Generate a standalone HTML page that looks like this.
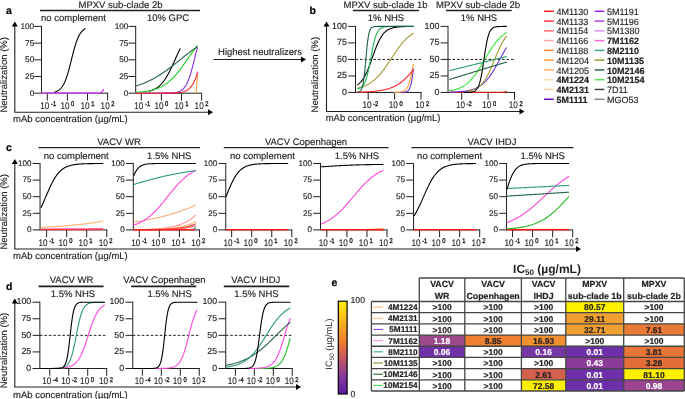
<!DOCTYPE html>
<html><head><meta charset="utf-8"><style>
html,body{margin:0;padding:0;background:#fff;width:685px;height:399px;overflow:hidden}
svg{display:block;font-family:"Liberation Sans", sans-serif;will-change:transform;text-rendering:geometricPrecision}
</style></head><body>
<svg width="685" height="399" viewBox="0 0 685 399">
<rect x="0" y="0" width="685" height="399" fill="#fff"/>
<text x="6.00" y="14.30" font-size="10.5" text-anchor="start" font-weight="bold" fill="#000" stroke="#000" stroke-width="0.2" >a</text>
<text x="120.50" y="8.00" font-size="9.5" text-anchor="middle" font-weight="normal" fill="#231f20" stroke="#231f20" stroke-width="0.15" >MPXV sub-clade 2b</text>
<line x1="40.00" y1="10.60" x2="200.00" y2="10.60" stroke="#231f20" stroke-width="1.5" />
<text x="73.50" y="21.20" font-size="9.5" text-anchor="middle" font-weight="normal" fill="#231f20" stroke="#231f20" stroke-width="0.15" >no complement</text>
<text x="168.00" y="21.20" font-size="9.5" text-anchor="middle" font-weight="normal" fill="#231f20" stroke="#231f20" stroke-width="0.15" >10% GPC</text>
<line x1="14.80" y1="112.00" x2="14.80" y2="25.50" stroke="#231f20" stroke-width="1.1" />
<path d="M11.80,26.50 L14.80,21.50 L17.80,26.50 Z" fill="#000"/>
<line x1="14.30" y1="112.20" x2="209.00" y2="112.20" stroke="#231f20" stroke-width="1.1" />
<path d="M208.00,109.20 L213.00,112.20 L208.00,115.20 Z" fill="#000"/>
<text x="6.90" y="74.80" font-size="9.5" text-anchor="middle" font-weight="normal" fill="#231f20" stroke="#231f20" stroke-width="0.15" transform="rotate(-90 6.9 74.8)">Neutralization (%)</text>
<text x="13.00" y="121.50" font-size="9.5" text-anchor="start" font-weight="normal" fill="#231f20" stroke="#231f20" stroke-width="0.15" >mAb concentration (µg/mL)</text>
<line x1="41.50" y1="25.90" x2="41.50" y2="93.70" stroke="#231f20" stroke-width="1" />
<line x1="34.20" y1="93.20" x2="41.50" y2="93.20" stroke="#231f20" stroke-width="1" />
<text x="34.20" y="95.80" font-size="8.2" text-anchor="end" font-weight="normal" fill="#231f20" stroke="#231f20" stroke-width="0.15" >0</text>
<line x1="34.20" y1="76.50" x2="41.50" y2="76.50" stroke="#231f20" stroke-width="1" />
<text x="34.20" y="79.10" font-size="8.2" text-anchor="end" font-weight="normal" fill="#231f20" stroke="#231f20" stroke-width="0.15" >25</text>
<line x1="34.20" y1="59.80" x2="41.50" y2="59.80" stroke="#231f20" stroke-width="1" />
<text x="34.20" y="62.40" font-size="8.2" text-anchor="end" font-weight="normal" fill="#231f20" stroke="#231f20" stroke-width="0.15" >50</text>
<line x1="34.20" y1="43.10" x2="41.50" y2="43.10" stroke="#231f20" stroke-width="1" />
<text x="34.20" y="45.70" font-size="8.2" text-anchor="end" font-weight="normal" fill="#231f20" stroke="#231f20" stroke-width="0.15" >75</text>
<line x1="34.20" y1="26.40" x2="41.50" y2="26.40" stroke="#231f20" stroke-width="1" />
<text x="34.20" y="29.00" font-size="8.2" text-anchor="end" font-weight="normal" fill="#231f20" stroke="#231f20" stroke-width="0.15" >100</text>
<line x1="41.50" y1="93.20" x2="108.10" y2="93.20" stroke="#231f20" stroke-width="1" />
<line x1="47.30" y1="93.20" x2="47.30" y2="100.50" stroke="#231f20" stroke-width="1" />
<text transform="translate(40.30 108.90) scale(0.85 1)" font-size="9.6" fill="#231f20" stroke="#231f20" stroke-width="0.12">10<tspan dx="1.9" dy="-2.6" font-size="6.8" stroke-width="0.35">-1</tspan></text>
<line x1="67.40" y1="93.20" x2="67.40" y2="100.50" stroke="#231f20" stroke-width="1" />
<text transform="translate(60.40 108.90) scale(0.85 1)" font-size="9.6" fill="#231f20" stroke="#231f20" stroke-width="0.12">10<tspan dx="1.9" dy="-2.6" font-size="6.8" stroke-width="0.35">0</tspan></text>
<line x1="87.50" y1="93.20" x2="87.50" y2="100.50" stroke="#231f20" stroke-width="1" />
<text transform="translate(80.50 108.90) scale(0.85 1)" font-size="9.6" fill="#231f20" stroke="#231f20" stroke-width="0.12">10<tspan dx="1.9" dy="-2.6" font-size="6.8" stroke-width="0.35">1</tspan></text>
<line x1="107.60" y1="93.20" x2="107.60" y2="100.50" stroke="#231f20" stroke-width="1" />
<text transform="translate(100.60 108.90) scale(0.85 1)" font-size="9.6" fill="#231f20" stroke="#231f20" stroke-width="0.12">10<tspan dx="1.9" dy="-2.6" font-size="6.8" stroke-width="0.35">2</tspan></text>
<polyline points="41.67,92.93 42.44,92.93 43.21,92.93 43.99,92.93 44.76,92.93 45.53,92.93 46.30,92.93 47.07,92.93 47.84,92.93 48.61,92.93 49.39,92.93 50.16,92.93 50.93,92.93 51.70,92.93 52.47,92.93 53.24,92.93 54.01,92.93 54.78,92.93 55.56,92.93 56.33,92.93 57.10,92.93 57.87,92.93 58.64,92.93 59.41,92.93 60.18,92.93 60.96,92.93 61.73,92.93 62.50,92.93 63.27,92.93 64.04,92.93 64.81,92.93 65.58,92.93 66.35,92.93 67.13,92.93 67.90,92.93 68.67,92.93 69.44,92.93 70.21,92.93 70.98,92.93 71.75,92.93 72.53,92.93 73.30,92.93 74.07,92.93 74.84,92.93 75.61,92.93 76.38,92.93 77.15,92.93 77.92,92.93 78.70,92.93 79.47,92.93 80.24,92.93 81.01,92.93 81.78,92.93 82.55,92.93 83.32,92.93 84.10,92.93 84.87,92.93 85.64,92.93 86.41,92.93 87.18,92.93 87.95,92.93 88.72,92.93 89.49,92.93 90.27,92.93 91.04,92.93 91.81,92.93 92.58,92.93 93.35,92.93 94.12,92.93 94.89,92.93 95.67,92.93 96.44,92.93 97.21,92.93 97.98,92.93 98.75,92.93 99.52,92.91 100.29,92.78 101.06,92.46 101.84,91.88 102.61,90.95 103.38,89.59" fill="none" stroke="#cc44ee" stroke-width="1.4" stroke-linejoin="round" stroke-linecap="round"/>
<polyline points="54.94,91.96 55.31,91.84 55.69,91.71 56.07,91.58 56.45,91.43 56.82,91.26 57.20,91.09 57.58,90.89 57.95,90.68 58.33,90.45 58.71,90.20 59.08,89.93 59.46,89.64 59.84,89.32 60.21,88.98 60.59,88.60 60.97,88.20 61.34,87.76 61.72,87.29 62.10,86.79 62.48,86.24 62.85,85.66 63.23,85.03 63.61,84.35 63.98,83.64 64.36,82.87 64.74,82.05 65.11,81.18 65.49,80.26 65.87,79.29 66.24,78.27 66.62,77.19 67.00,76.06 67.37,74.88 67.75,73.65 68.13,72.37 68.51,71.05 68.88,69.69 69.26,68.29 69.64,66.86 70.01,65.40 70.39,63.92 70.77,62.42 71.14,60.91 71.52,59.40 71.90,57.88 72.27,56.38 72.65,54.89 73.03,53.42 73.40,51.97 73.78,50.56 74.16,49.18 74.54,47.84 74.91,46.54 75.29,45.29 75.67,44.08 76.04,42.93 76.42,41.83 76.80,40.78 77.17,39.78 77.55,38.84 77.93,37.95 78.30,37.11 78.68,36.32 79.06,35.58 79.43,34.88 79.81,34.23 80.19,33.63 80.57,33.06 80.94,32.54 81.32,32.05 81.70,31.60 82.07,31.18 82.45,30.79 82.83,30.44 83.20,30.11 83.58,29.80 83.96,29.52 84.33,29.26 84.71,29.02 85.09,28.80" fill="none" stroke="#000" stroke-width="1.1" stroke-linejoin="round" stroke-linecap="round"/>
<line x1="135.70" y1="25.90" x2="135.70" y2="93.70" stroke="#231f20" stroke-width="1" />
<line x1="128.40" y1="93.20" x2="135.70" y2="93.20" stroke="#231f20" stroke-width="1" />
<text x="128.40" y="95.80" font-size="8.2" text-anchor="end" font-weight="normal" fill="#231f20" stroke="#231f20" stroke-width="0.15" >0</text>
<line x1="128.40" y1="76.50" x2="135.70" y2="76.50" stroke="#231f20" stroke-width="1" />
<text x="128.40" y="79.10" font-size="8.2" text-anchor="end" font-weight="normal" fill="#231f20" stroke="#231f20" stroke-width="0.15" >25</text>
<line x1="128.40" y1="59.80" x2="135.70" y2="59.80" stroke="#231f20" stroke-width="1" />
<text x="128.40" y="62.40" font-size="8.2" text-anchor="end" font-weight="normal" fill="#231f20" stroke="#231f20" stroke-width="0.15" >50</text>
<line x1="128.40" y1="43.10" x2="135.70" y2="43.10" stroke="#231f20" stroke-width="1" />
<text x="128.40" y="45.70" font-size="8.2" text-anchor="end" font-weight="normal" fill="#231f20" stroke="#231f20" stroke-width="0.15" >75</text>
<line x1="128.40" y1="26.40" x2="135.70" y2="26.40" stroke="#231f20" stroke-width="1" />
<text x="128.40" y="29.00" font-size="8.2" text-anchor="end" font-weight="normal" fill="#231f20" stroke="#231f20" stroke-width="0.15" >100</text>
<line x1="135.70" y1="93.20" x2="202.10" y2="93.20" stroke="#231f20" stroke-width="1" />
<line x1="141.30" y1="93.20" x2="141.30" y2="100.50" stroke="#231f20" stroke-width="1" />
<text transform="translate(134.30 108.90) scale(0.85 1)" font-size="9.6" fill="#231f20" stroke="#231f20" stroke-width="0.12">10<tspan dx="1.9" dy="-2.6" font-size="6.8" stroke-width="0.35">-1</tspan></text>
<line x1="161.40" y1="93.20" x2="161.40" y2="100.50" stroke="#231f20" stroke-width="1" />
<text transform="translate(154.40 108.90) scale(0.85 1)" font-size="9.6" fill="#231f20" stroke="#231f20" stroke-width="0.12">10<tspan dx="1.9" dy="-2.6" font-size="6.8" stroke-width="0.35">0</tspan></text>
<line x1="181.50" y1="93.20" x2="181.50" y2="100.50" stroke="#231f20" stroke-width="1" />
<text transform="translate(174.50 108.90) scale(0.85 1)" font-size="9.6" fill="#231f20" stroke="#231f20" stroke-width="0.12">10<tspan dx="1.9" dy="-2.6" font-size="6.8" stroke-width="0.35">1</tspan></text>
<line x1="201.60" y1="93.20" x2="201.60" y2="100.50" stroke="#231f20" stroke-width="1" />
<text transform="translate(194.60 108.90) scale(0.85 1)" font-size="9.6" fill="#231f20" stroke="#231f20" stroke-width="0.12">10<tspan dx="1.9" dy="-2.6" font-size="6.8" stroke-width="0.35">2</tspan></text>
<polyline points="195.17,93.00 195.20,93.00 195.22,93.00 195.25,93.00 195.28,93.00 195.31,92.99 195.33,92.99 195.36,92.99 195.39,92.98 195.42,92.97 195.44,92.96 195.47,92.95 195.50,92.93 195.53,92.91 195.55,92.89 195.58,92.87 195.61,92.84 195.64,92.81 195.67,92.77 195.69,92.73 195.72,92.69 195.75,92.64 195.78,92.58 195.80,92.52 195.83,92.46 195.86,92.39 195.89,92.31 195.91,92.23 195.94,92.14 195.97,92.04 196.00,91.94 196.02,91.83 196.05,91.72 196.08,91.59 196.11,91.46 196.14,91.32 196.16,91.17 196.19,91.02 196.22,90.85 196.25,90.68 196.27,90.49 196.30,90.30 196.33,90.10 196.36,89.89 196.38,89.67 196.41,89.43 196.44,89.19 196.47,88.94 196.49,88.67 196.52,88.39 196.55,88.11 196.58,87.81 196.61,87.50 196.63,87.17 196.66,86.84 196.69,86.49 196.72,86.13 196.74,85.75 196.77,85.36 196.80,84.96 196.83,84.55 196.85,84.12 196.88,83.67 196.91,83.21 196.94,82.74 196.96,82.25 196.99,81.75 197.02,81.23 197.05,80.69 197.07,80.14 197.10,79.57 197.13,78.99 197.16,78.39 197.19,77.77 197.21,77.14 197.24,76.49 197.27,75.82 197.30,75.13 197.32,74.43 197.35,73.70 197.38,72.96" fill="none" stroke="#ff9a33" stroke-width="1.1" stroke-linejoin="round" stroke-linecap="round"/>
<polyline points="135.67,93.20 136.44,93.20 137.21,93.20 137.99,93.20 138.76,93.20 139.53,93.20 140.30,93.20 141.07,93.20 141.84,93.20 142.61,93.20 143.39,93.20 144.16,93.20 144.93,93.20 145.70,93.20 146.47,93.20 147.24,93.20 148.01,93.20 148.78,93.20 149.56,93.20 150.33,93.20 151.10,93.20 151.87,93.20 152.64,93.20 153.41,93.20 154.18,93.20 154.96,93.19 155.73,93.19 156.50,93.19 157.27,93.19 158.04,93.19 158.81,93.19 159.58,93.18 160.35,93.18 161.13,93.18 161.90,93.17 162.67,93.17 163.44,93.16 164.21,93.15 164.98,93.14 165.75,93.13 166.53,93.12 167.30,93.10 168.07,93.08 168.84,93.05 169.61,93.02 170.38,92.99 171.15,92.94 171.92,92.89 172.70,92.83 173.47,92.76 174.24,92.67 175.01,92.56 175.78,92.43 176.55,92.27 177.32,92.09 178.10,91.87 178.87,91.60 179.64,91.29 180.41,90.91 181.18,90.46 181.95,89.93 182.72,89.30 183.49,88.56 184.27,87.69 185.04,86.68 185.81,85.50 186.58,84.15 187.35,82.60 188.12,80.83 188.89,78.85 189.67,76.65 190.44,74.24 191.21,71.62 191.98,68.83 192.75,65.89 193.52,62.85 194.29,59.76 195.06,56.67 195.84,53.63 196.61,50.70 197.38,47.91" fill="none" stroke="#8a2be2" stroke-width="1.1" stroke-linejoin="round" stroke-linecap="round"/>
<polyline points="149.34,91.12 149.72,91.01 150.11,90.90 150.49,90.78 150.88,90.66 151.26,90.53 151.65,90.40 152.03,90.26 152.42,90.11 152.80,89.95 153.18,89.79 153.57,89.62 153.95,89.44 154.34,89.25 154.72,89.06 155.11,88.85 155.49,88.64 155.88,88.41 156.26,88.18 156.64,87.94 157.03,87.68 157.41,87.41 157.80,87.14 158.18,86.85 158.57,86.54 158.95,86.23 159.33,85.90 159.72,85.56 160.10,85.20 160.49,84.83 160.87,84.45 161.26,84.05 161.64,83.63 162.03,83.20 162.41,82.76 162.79,82.30 163.18,81.82 163.56,81.32 163.95,80.81 164.33,80.28 164.72,79.74 165.10,79.17 165.49,78.59 165.87,78.00 166.25,77.38 166.64,76.75 167.02,76.11 167.41,75.44 167.79,74.76 168.18,74.07 168.56,73.36 168.95,72.63 169.33,71.89 169.71,71.14 170.10,70.37 170.48,69.59 170.87,68.80 171.25,67.99 171.64,67.18 172.02,66.36 172.40,65.52 172.79,64.69 173.17,63.84 173.56,62.99 173.94,62.14 174.33,61.28 174.71,60.42 175.10,59.56 175.48,58.70 175.86,57.84 176.25,56.98 176.63,56.13 177.02,55.28 177.40,54.44 177.79,53.61 178.17,52.78 178.56,51.96 178.94,51.16 179.32,50.36 179.71,49.57 180.09,48.80" fill="none" stroke="#000" stroke-width="1.1" stroke-linejoin="round" stroke-linecap="round"/>
<polyline points="135.67,92.43 136.44,92.38 137.21,92.32 137.99,92.26 138.76,92.20 139.53,92.13 140.30,92.05 141.07,91.98 141.84,91.89 142.61,91.81 143.39,91.71 144.16,91.61 144.93,91.50 145.70,91.39 146.47,91.27 147.24,91.14 148.01,91.00 148.78,90.86 149.56,90.70 150.33,90.53 151.10,90.36 151.87,90.17 152.64,89.97 153.41,89.76 154.18,89.53 154.96,89.30 155.73,89.04 156.50,88.77 157.27,88.49 158.04,88.19 158.81,87.87 159.58,87.53 160.35,87.18 161.13,86.80 161.90,86.40 162.67,85.99 163.44,85.54 164.21,85.08 164.98,84.59 165.75,84.08 166.53,83.54 167.30,82.97 168.07,82.38 168.84,81.76 169.61,81.11 170.38,80.44 171.15,79.74 171.92,79.00 172.70,78.24 173.47,77.45 174.24,76.63 175.01,75.79 175.78,74.91 176.55,74.01 177.32,73.09 178.10,72.14 178.87,71.16 179.64,70.16 180.41,69.14 181.18,68.11 181.95,67.05 182.72,65.98 183.49,64.90 184.27,63.80 185.04,62.70 185.81,61.59 186.58,60.48 187.35,59.36 188.12,58.25 188.89,57.13 189.67,56.03 190.44,54.93 191.21,53.85 191.98,52.77 192.75,51.71 193.52,50.67 194.29,49.65 195.06,48.65 195.84,47.67 196.61,46.71 197.38,45.78" fill="none" stroke="#22cc22" stroke-width="1.1" stroke-linejoin="round" stroke-linecap="round"/>
<polyline points="136.68,85.84 137.43,85.60 138.18,85.35 138.94,85.10 139.69,84.83 140.45,84.57 141.20,84.29 141.95,84.01 142.71,83.71 143.46,83.42 144.21,83.11 144.97,82.79 145.72,82.47 146.48,82.14 147.23,81.80 147.98,81.46 148.74,81.10 149.49,80.74 150.24,80.36 151.00,79.98 151.75,79.60 152.51,79.20 153.26,78.79 154.01,78.38 154.77,77.96 155.52,77.53 156.27,77.09 157.03,76.64 157.78,76.18 158.54,75.72 159.29,75.25 160.04,74.77 160.80,74.28 161.55,73.78 162.30,73.28 163.06,72.77 163.81,72.25 164.57,71.73 165.32,71.19 166.07,70.66 166.83,70.11 167.58,69.56 168.33,69.00 169.09,68.44 169.84,67.87 170.60,67.30 171.35,66.72 172.10,66.14 172.86,65.56 173.61,64.97 174.36,64.37 175.12,63.78 175.87,63.18 176.63,62.58 177.38,61.98 178.13,61.37 178.89,60.77 179.64,60.16 180.39,59.56 181.15,58.95 181.90,58.35 182.66,57.74 183.41,57.14 184.16,56.54 184.92,55.94 185.67,55.34 186.42,54.75 187.18,54.16 187.93,53.57 188.69,52.99 189.44,52.41 190.19,51.84 190.95,51.27 191.70,50.71 192.45,50.15 193.21,49.60 193.96,49.05 194.72,48.51 195.47,47.98 196.22,47.45 196.98,46.93" fill="none" stroke="#22604a" stroke-width="1.1" stroke-linejoin="round" stroke-linecap="round"/>
<polyline points="135.67,93.20 136.44,93.20 137.21,93.20 137.99,93.20 138.76,93.20 139.53,93.20 140.30,93.20 141.07,93.20 141.84,93.20 142.61,93.20 143.39,93.20 144.16,93.20 144.93,93.20 145.70,93.20 146.47,93.20 147.24,93.20 148.01,93.20 148.78,93.20 149.56,93.20 150.33,93.20 151.10,93.20 151.87,93.20 152.64,93.20 153.41,93.20 154.18,93.20 154.96,93.20 155.73,93.20 156.50,93.20 157.27,93.19 158.04,93.19 158.81,93.19 159.58,93.19 160.35,93.19 161.13,93.19 161.90,93.19 162.67,93.18 163.44,93.18 164.21,93.18 164.98,93.17 165.75,93.17 166.53,93.16 167.30,93.15 168.07,93.15 168.84,93.14 169.61,93.12 170.38,93.11 171.15,93.10 171.92,93.08 172.70,93.06 173.47,93.03 174.24,93.00 175.01,92.96 175.78,92.92 176.55,92.87 177.32,92.81 178.10,92.75 178.87,92.66 179.64,92.57 180.41,92.46 181.18,92.33 181.95,92.17 182.72,91.99 183.49,91.78 184.27,91.54 185.04,91.25 185.81,90.91 186.58,90.52 187.35,90.06 188.12,89.53 188.89,88.92 189.67,88.21 190.44,87.40 191.21,86.47 191.98,85.41 192.75,84.20 193.52,82.84 194.29,81.32 195.06,79.63 195.84,77.77 196.61,75.73 197.38,73.53" fill="none" stroke="#ff1f1f" stroke-width="1.1" stroke-linejoin="round" stroke-linecap="round"/>
<circle cx="197.38" cy="72.49" r="1" fill="#ff66dd"/>
<text x="260.00" y="55.00" font-size="9.5" text-anchor="middle" font-weight="normal" fill="#231f20" stroke="#231f20" stroke-width="0.15" >Highest neutralizers</text>
<line x1="213.50" y1="59.50" x2="302.00" y2="59.50" stroke="#231f20" stroke-width="1.1" />
<path d="M301.00,56.50 L306.00,59.50 L301.00,62.50 Z" fill="#000"/>
<text x="309.50" y="14.30" font-size="10.5" text-anchor="start" font-weight="bold" fill="#000" stroke="#000" stroke-width="0.2" >b</text>
<text x="385.50" y="8.00" font-size="9.5" text-anchor="middle" font-weight="normal" fill="#231f20" stroke="#231f20" stroke-width="0.15" >MPXV sub-clade 1b</text>
<line x1="353.00" y1="10.40" x2="419.00" y2="10.40" stroke="#231f20" stroke-width="1.5" />
<text x="478.00" y="8.00" font-size="9.5" text-anchor="middle" font-weight="normal" fill="#231f20" stroke="#231f20" stroke-width="0.15" >MPXV sub-clade 2b</text>
<line x1="446.00" y1="10.40" x2="511.60" y2="10.40" stroke="#231f20" stroke-width="1.5" />
<text x="386.00" y="21.20" font-size="9.5" text-anchor="middle" font-weight="normal" fill="#231f20" stroke="#231f20" stroke-width="0.15" >1% NHS</text>
<text x="479.00" y="21.20" font-size="9.5" text-anchor="middle" font-weight="normal" fill="#231f20" stroke="#231f20" stroke-width="0.15" >1% NHS</text>
<line x1="326.50" y1="111.00" x2="326.50" y2="25.50" stroke="#231f20" stroke-width="1.1" />
<path d="M323.50,26.50 L326.50,21.50 L329.50,26.50 Z" fill="#000"/>
<line x1="326.00" y1="111.50" x2="520.50" y2="111.50" stroke="#231f20" stroke-width="1.1" />
<path d="M519.50,108.50 L524.50,111.50 L519.50,114.50 Z" fill="#000"/>
<text x="318.50" y="74.70" font-size="9.5" text-anchor="middle" font-weight="normal" fill="#231f20" stroke="#231f20" stroke-width="0.15" transform="rotate(-90 318.5 74.7)">Neutralization (%)</text>
<text x="325.70" y="121.00" font-size="9.5" text-anchor="start" font-weight="normal" fill="#231f20" stroke="#231f20" stroke-width="0.15" >mAb concentration (µg/mL)</text>
<line x1="355.50" y1="25.90" x2="355.50" y2="92.95" stroke="#231f20" stroke-width="1" />
<line x1="348.20" y1="92.45" x2="355.50" y2="92.45" stroke="#231f20" stroke-width="1" />
<text x="346.90" y="94.70" font-size="8.9" text-anchor="end" font-weight="normal" fill="#231f20" stroke="#231f20" stroke-width="0.15" >0</text>
<line x1="348.20" y1="75.94" x2="355.50" y2="75.94" stroke="#231f20" stroke-width="1" />
<text x="346.90" y="78.19" font-size="8.9" text-anchor="end" font-weight="normal" fill="#231f20" stroke="#231f20" stroke-width="0.15" >25</text>
<line x1="348.20" y1="59.42" x2="355.50" y2="59.42" stroke="#231f20" stroke-width="1" />
<text x="346.90" y="61.67" font-size="8.9" text-anchor="end" font-weight="normal" fill="#231f20" stroke="#231f20" stroke-width="0.15" >50</text>
<line x1="348.20" y1="42.91" x2="355.50" y2="42.91" stroke="#231f20" stroke-width="1" />
<text x="346.90" y="45.16" font-size="8.9" text-anchor="end" font-weight="normal" fill="#231f20" stroke="#231f20" stroke-width="0.15" >75</text>
<line x1="348.20" y1="26.40" x2="355.50" y2="26.40" stroke="#231f20" stroke-width="1" />
<text x="346.90" y="28.65" font-size="8.9" text-anchor="end" font-weight="normal" fill="#231f20" stroke="#231f20" stroke-width="0.15" >100</text>
<line x1="355.50" y1="92.45" x2="421.50" y2="92.45" stroke="#231f20" stroke-width="1" />
<line x1="368.20" y1="92.45" x2="368.20" y2="99.75" stroke="#231f20" stroke-width="1" />
<text transform="translate(362.40 108.15) scale(0.85 1)" font-size="9.6" fill="#231f20" stroke="#231f20" stroke-width="0.12">10<tspan dx="1.9" dy="-2.6" font-size="6.8" stroke-width="0.35">-2</tspan></text>
<line x1="394.60" y1="92.45" x2="394.60" y2="99.75" stroke="#231f20" stroke-width="1" />
<text transform="translate(388.80 108.15) scale(0.85 1)" font-size="9.6" fill="#231f20" stroke="#231f20" stroke-width="0.12">10<tspan dx="1.9" dy="-2.6" font-size="6.8" stroke-width="0.35">0</tspan></text>
<line x1="421.00" y1="92.45" x2="421.00" y2="99.75" stroke="#231f20" stroke-width="1" />
<text transform="translate(415.20 108.15) scale(0.85 1)" font-size="9.6" fill="#231f20" stroke="#231f20" stroke-width="0.12">10<tspan dx="1.9" dy="-2.6" font-size="6.8" stroke-width="0.35">2</tspan></text>
<line x1="355.50" y1="59.42" x2="421.00" y2="59.42" stroke="#231f20" stroke-width="1.0" stroke-dasharray="2.6,1.9"/>
<polyline points="398.56,92.44 398.74,92.44 398.93,92.44 399.11,92.44 399.30,92.44 399.48,92.44 399.67,92.44 399.85,92.43 400.04,92.43 400.22,92.43 400.41,92.43 400.59,92.43 400.78,92.42 400.96,92.42 401.15,92.42 401.33,92.41 401.52,92.41 401.70,92.40 401.89,92.40 402.07,92.39 402.26,92.39 402.44,92.38 402.63,92.37 402.81,92.36 403.00,92.35 403.18,92.34 403.36,92.33 403.55,92.32 403.73,92.30 403.92,92.29 404.10,92.27 404.29,92.25 404.47,92.23 404.66,92.20 404.84,92.18 405.03,92.14 405.21,92.11 405.40,92.07 405.58,92.03 405.77,91.98 405.95,91.93 406.14,91.87 406.32,91.81 406.51,91.74 406.69,91.66 406.88,91.57 407.06,91.48 407.25,91.37 407.43,91.25 407.62,91.12 407.80,90.97 407.98,90.81 408.17,90.63 408.35,90.43 408.54,90.21 408.72,89.97 408.91,89.71 409.09,89.41 409.28,89.09 409.46,88.73 409.65,88.34 409.83,87.91 410.02,87.44 410.20,86.92 410.39,86.36 410.57,85.75 410.76,85.08 410.94,84.35 411.13,83.57 411.31,82.72 411.50,81.80 411.68,80.81 411.87,79.76 412.05,78.63 412.24,77.43 412.42,76.16 412.60,74.82 412.79,73.42 412.97,71.94 413.16,70.41 413.34,68.82" fill="none" stroke="#6a2bd0" stroke-width="1.1" stroke-linejoin="round" stroke-linecap="round"/>
<polyline points="394.60,92.39 394.83,92.39 395.07,92.38 395.30,92.38 395.54,92.37 395.77,92.36 396.01,92.36 396.24,92.35 396.47,92.34 396.71,92.33 396.94,92.32 397.18,92.31 397.41,92.29 397.65,92.28 397.88,92.26 398.11,92.25 398.35,92.23 398.58,92.21 398.82,92.19 399.05,92.17 399.29,92.14 399.52,92.11 399.75,92.09 399.99,92.05 400.22,92.02 400.46,91.98 400.69,91.94 400.93,91.89 401.16,91.85 401.39,91.79 401.63,91.74 401.86,91.67 402.10,91.61 402.33,91.53 402.57,91.45 402.80,91.37 403.03,91.27 403.27,91.17 403.50,91.06 403.74,90.94 403.97,90.81 404.21,90.67 404.44,90.52 404.67,90.35 404.91,90.17 405.14,89.98 405.38,89.77 405.61,89.54 405.85,89.30 406.08,89.03 406.31,88.75 406.55,88.44 406.78,88.11 407.02,87.76 407.25,87.37 407.49,86.96 407.72,86.52 407.96,86.05 408.19,85.54 408.42,85.00 408.66,84.42 408.89,83.81 409.13,83.15 409.36,82.45 409.60,81.72 409.83,80.93 410.06,80.11 410.30,79.23 410.53,78.32 410.77,77.36 411.00,76.35 411.24,75.30 411.47,74.20 411.70,73.06 411.94,71.88 412.17,70.67 412.41,69.41 412.64,68.13 412.88,66.81 413.11,65.48 413.34,64.12" fill="none" stroke="#ff9a33" stroke-width="1.1" stroke-linejoin="round" stroke-linecap="round"/>
<polyline points="357.64,92.18 358.34,92.16 359.03,92.14 359.73,92.13 360.43,92.10 361.12,92.08 361.82,92.06 362.51,92.04 363.21,92.01 363.91,91.98 364.60,91.95 365.30,91.92 366.00,91.89 366.69,91.86 367.39,91.82 368.08,91.78 368.78,91.74 369.48,91.69 370.17,91.65 370.87,91.60 371.57,91.55 372.26,91.49 372.96,91.43 373.65,91.37 374.35,91.30 375.05,91.23 375.74,91.16 376.44,91.08 377.14,90.99 377.83,90.90 378.53,90.81 379.23,90.71 379.92,90.60 380.62,90.49 381.31,90.37 382.01,90.25 382.71,90.11 383.40,89.97 384.10,89.82 384.80,89.67 385.49,89.50 386.19,89.32 386.88,89.14 387.58,88.94 388.28,88.73 388.97,88.51 389.67,88.28 390.37,88.04 391.06,87.78 391.76,87.51 392.46,87.23 393.15,86.93 393.85,86.61 394.54,86.28 395.24,85.93 395.94,85.57 396.63,85.18 397.33,84.78 398.03,84.36 398.72,83.92 399.42,83.46 400.11,82.98 400.81,82.47 401.51,81.95 402.20,81.40 402.90,80.83 403.60,80.24 404.29,79.62 404.99,78.98 405.68,78.32 406.38,77.63 407.08,76.92 407.77,76.19 408.47,75.43 409.17,74.66 409.86,73.85 410.56,73.03 411.26,72.19 411.95,71.33 412.65,70.44 413.34,69.54" fill="none" stroke="#ff1f1f" stroke-width="1.1" stroke-linejoin="round" stroke-linecap="round"/>
<polyline points="357.64,88.24 358.34,88.07 359.03,87.89 359.73,87.70 360.43,87.50 361.12,87.29 361.82,87.06 362.51,86.82 363.21,86.57 363.91,86.30 364.60,86.02 365.30,85.72 366.00,85.40 366.69,85.06 367.39,84.71 368.08,84.33 368.78,83.94 369.48,83.52 370.17,83.09 370.87,82.63 371.57,82.14 372.26,81.64 372.96,81.11 373.65,80.55 374.35,79.97 375.05,79.36 375.74,78.72 376.44,78.06 377.14,77.37 377.83,76.66 378.53,75.91 379.23,75.14 379.92,74.35 380.62,73.53 381.31,72.68 382.01,71.80 382.71,70.91 383.40,69.99 384.10,69.05 384.80,68.09 385.49,67.10 386.19,66.11 386.88,65.09 387.58,64.07 388.28,63.03 388.97,61.98 389.67,60.92 390.37,59.86 391.06,58.80 391.76,57.74 392.46,56.68 393.15,55.62 393.85,54.57 394.54,53.52 395.24,52.49 395.94,51.47 396.63,50.47 397.33,49.48 398.03,48.51 398.72,47.56 399.42,46.64 400.11,45.73 400.81,44.85 401.51,43.99 402.20,43.16 402.90,42.35 403.60,41.57 404.29,40.82 404.99,40.09 405.68,39.40 406.38,38.72 407.08,38.08 407.77,37.46 408.47,36.87 409.17,36.30 409.86,35.76 410.56,35.24 411.26,34.75 411.95,34.28 412.65,33.84 413.34,33.41" fill="none" stroke="#a09a30" stroke-width="1.1" stroke-linejoin="round" stroke-linecap="round"/>
<polyline points="357.64,84.61 358.34,84.12 359.03,83.57 359.73,82.96 360.43,82.28 361.12,81.53 361.82,80.70 362.51,79.79 363.21,78.80 363.91,77.71 364.60,76.52 365.30,75.24 366.00,73.86 366.69,72.39 367.39,70.82 368.08,69.17 368.78,67.43 369.48,65.62 370.17,63.75 370.87,61.83 371.57,59.88 372.26,57.90 372.96,55.92 373.65,53.96 374.35,52.02 375.05,50.13 375.74,48.29 376.44,46.51 377.14,44.82 377.83,43.21 378.53,41.69 379.23,40.27 379.92,38.95 380.62,37.72 381.31,36.59 382.01,35.55 382.71,34.60 383.40,33.73 384.10,32.94 384.80,32.23 385.49,31.59 386.19,31.02 386.88,30.50 387.58,30.04 388.28,29.63 388.97,29.26 389.67,28.93 390.37,28.64 391.06,28.38 391.76,28.15 392.46,27.94 393.15,27.76 393.85,27.60 394.54,27.46 395.24,27.34 395.94,27.23 396.63,27.13 397.33,27.04 398.03,26.97 398.72,26.90 399.42,26.84 400.11,26.79 400.81,26.74 401.51,26.70 402.20,26.66 402.90,26.63 403.60,26.61 404.29,26.58 404.99,26.56 405.68,26.54 406.38,26.52 407.08,26.51 407.77,26.50 408.47,26.48 409.17,26.47 409.86,26.47 410.56,26.46 411.26,26.45 411.95,26.44 412.65,26.44 413.34,26.43" fill="none" stroke="#000" stroke-width="1.1" stroke-linejoin="round" stroke-linecap="round"/>
<polyline points="357.64,88.84 358.34,88.67 359.03,88.45 359.73,88.17 360.43,87.82 361.12,87.39 361.82,86.84 362.51,86.16 363.21,85.31 363.91,84.26 364.60,82.99 365.30,81.44 366.00,79.58 366.69,77.39 367.39,74.86 368.08,71.97 368.78,68.75 369.48,65.26 370.17,61.57 370.87,57.78 371.57,53.99 372.26,50.31 372.96,46.84 373.65,43.65 374.35,40.79 375.05,38.28 375.74,36.12 376.44,34.30 377.14,32.77 377.83,31.52 378.53,30.49 379.23,29.66 379.92,28.99 380.62,28.45 381.31,28.02 382.01,27.68 382.71,27.41 383.40,27.20 384.10,27.03 384.80,26.89 385.49,26.79 386.19,26.70 386.88,26.64 387.58,26.59 388.28,26.55 388.97,26.52 389.67,26.49 390.37,26.47 391.06,26.46 391.76,26.44 392.46,26.43 393.15,26.43 393.85,26.42 394.54,26.42 395.24,26.41 395.94,26.41 396.63,26.41 397.33,26.41 398.03,26.41 398.72,26.40 399.42,26.40 400.11,26.40 400.81,26.40 401.51,26.40 402.20,26.40 402.90,26.40 403.60,26.40 404.29,26.40 404.99,26.40 405.68,26.40 406.38,26.40 407.08,26.40 407.77,26.40 408.47,26.40 409.17,26.40 409.86,26.40 410.56,26.40 411.26,26.40 411.95,26.40 412.65,26.40 413.34,26.40" fill="none" stroke="#1db954" stroke-width="1.1" stroke-linejoin="round" stroke-linecap="round"/>
<polyline points="357.64,92.20 358.34,92.05 359.03,91.81 359.73,91.42 360.43,90.81 361.12,89.86 361.82,88.39 362.51,86.16 363.21,82.90 363.91,78.35 364.60,72.40 365.30,65.26 366.00,57.50 366.69,49.95 367.39,43.34 368.08,38.08 368.78,34.19 369.48,31.48 370.17,29.66 370.87,28.47 371.57,27.70 372.26,27.22 372.96,26.91 373.65,26.72 374.35,26.60 375.05,26.52 375.74,26.48 376.44,26.45 377.14,26.43 377.83,26.42 378.53,26.41 379.23,26.41 379.92,26.40 380.62,26.40 381.31,26.40 382.01,26.40 382.71,26.40 383.40,26.40 384.10,26.40 384.80,26.40 385.49,26.40 386.19,26.40 386.88,26.40 387.58,26.40 388.28,26.40 388.97,26.40 389.67,26.40 390.37,26.40 391.06,26.40 391.76,26.40 392.46,26.40 393.15,26.40 393.85,26.40 394.54,26.40 395.24,26.40 395.94,26.40 396.63,26.40 397.33,26.40 398.03,26.40 398.72,26.40 399.42,26.40 400.11,26.40 400.81,26.40 401.51,26.40 402.20,26.40 402.90,26.40 403.60,26.40 404.29,26.40 404.99,26.40 405.68,26.40 406.38,26.40 407.08,26.40 407.77,26.40 408.47,26.40 409.17,26.40 409.86,26.40 410.56,26.40 411.26,26.40 411.95,26.40 412.65,26.40 413.34,26.40" fill="none" stroke="#22604a" stroke-width="1.1" stroke-linejoin="round" stroke-linecap="round"/>
<line x1="448.00" y1="25.90" x2="448.00" y2="92.95" stroke="#231f20" stroke-width="1" />
<line x1="440.70" y1="92.45" x2="448.00" y2="92.45" stroke="#231f20" stroke-width="1" />
<text x="439.40" y="94.70" font-size="8.9" text-anchor="end" font-weight="normal" fill="#231f20" stroke="#231f20" stroke-width="0.15" >0</text>
<line x1="440.70" y1="75.94" x2="448.00" y2="75.94" stroke="#231f20" stroke-width="1" />
<text x="439.40" y="78.19" font-size="8.9" text-anchor="end" font-weight="normal" fill="#231f20" stroke="#231f20" stroke-width="0.15" >25</text>
<line x1="440.70" y1="59.42" x2="448.00" y2="59.42" stroke="#231f20" stroke-width="1" />
<text x="439.40" y="61.67" font-size="8.9" text-anchor="end" font-weight="normal" fill="#231f20" stroke="#231f20" stroke-width="0.15" >50</text>
<line x1="440.70" y1="42.91" x2="448.00" y2="42.91" stroke="#231f20" stroke-width="1" />
<text x="439.40" y="45.16" font-size="8.9" text-anchor="end" font-weight="normal" fill="#231f20" stroke="#231f20" stroke-width="0.15" >75</text>
<line x1="440.70" y1="26.40" x2="448.00" y2="26.40" stroke="#231f20" stroke-width="1" />
<text x="439.40" y="28.65" font-size="8.9" text-anchor="end" font-weight="normal" fill="#231f20" stroke="#231f20" stroke-width="0.15" >100</text>
<line x1="448.00" y1="92.45" x2="515.00" y2="92.45" stroke="#231f20" stroke-width="1" />
<line x1="461.70" y1="92.45" x2="461.70" y2="99.75" stroke="#231f20" stroke-width="1" />
<text transform="translate(455.90 108.15) scale(0.85 1)" font-size="9.6" fill="#231f20" stroke="#231f20" stroke-width="0.12">10<tspan dx="1.9" dy="-2.6" font-size="6.8" stroke-width="0.35">-2</tspan></text>
<line x1="488.10" y1="92.45" x2="488.10" y2="99.75" stroke="#231f20" stroke-width="1" />
<text transform="translate(482.30 108.15) scale(0.85 1)" font-size="9.6" fill="#231f20" stroke="#231f20" stroke-width="0.12">10<tspan dx="1.9" dy="-2.6" font-size="6.8" stroke-width="0.35">0</tspan></text>
<line x1="514.50" y1="92.45" x2="514.50" y2="99.75" stroke="#231f20" stroke-width="1" />
<text transform="translate(508.70 108.15) scale(0.85 1)" font-size="9.6" fill="#231f20" stroke="#231f20" stroke-width="0.12">10<tspan dx="1.9" dy="-2.6" font-size="6.8" stroke-width="0.35">2</tspan></text>
<line x1="448.00" y1="59.42" x2="515.00" y2="59.42" stroke="#231f20" stroke-width="1.0" stroke-dasharray="2.6,1.9"/>
<polyline points="449.69,92.25 450.40,92.25 451.10,92.25 451.81,92.25 452.52,92.25 453.23,92.25 453.94,92.25 454.64,92.25 455.35,92.25 456.06,92.25 456.77,92.25 457.47,92.25 458.18,92.25 458.89,92.25 459.60,92.25 460.31,92.25 461.01,92.25 461.72,92.25 462.43,92.25 463.14,92.25 463.85,92.25 464.55,92.25 465.26,92.25 465.97,92.25 466.68,92.25 467.38,92.25 468.09,92.25 468.80,92.25 469.51,92.25 470.22,92.25 470.92,92.25 471.63,92.25 472.34,92.25 473.05,92.25 473.75,92.25 474.46,92.25 475.17,92.25 475.88,92.25 476.59,92.25 477.29,92.25 478.00,92.25 478.71,92.25 479.42,92.25 480.13,92.25 480.83,92.25 481.54,92.25 482.25,92.25 482.96,92.25 483.66,92.25 484.37,92.25 485.08,92.25 485.79,92.25 486.50,92.25 487.20,92.25 487.91,92.25 488.62,92.25 489.33,92.25 490.04,92.25 490.74,92.25 491.45,92.25 492.16,92.25 492.87,92.25 493.57,92.25 494.28,92.25 494.99,92.25 495.70,92.25 496.41,92.25 497.11,92.25 497.82,92.25 498.53,92.25 499.24,92.25 499.95,92.25 500.65,92.25 501.36,92.25 502.07,92.23 502.78,92.17 503.48,92.06 504.19,91.92 504.90,91.74 505.61,91.52 506.32,91.26" fill="none" stroke="#ff1f1f" stroke-width="1.1" stroke-linejoin="round" stroke-linecap="round"/>
<polyline points="449.69,92.21 450.40,92.19 451.10,92.17 451.81,92.14 452.52,92.12 453.23,92.09 453.94,92.06 454.64,92.03 455.35,91.99 456.06,91.96 456.77,91.92 457.47,91.87 458.18,91.83 458.89,91.78 459.60,91.72 460.31,91.66 461.01,91.60 461.72,91.53 462.43,91.45 463.14,91.37 463.85,91.28 464.55,91.19 465.26,91.09 465.97,90.98 466.68,90.86 467.38,90.73 468.09,90.60 468.80,90.45 469.51,90.29 470.22,90.12 470.92,89.93 471.63,89.73 472.34,89.52 473.05,89.29 473.75,89.04 474.46,88.78 475.17,88.49 475.88,88.19 476.59,87.86 477.29,87.51 478.00,87.14 478.71,86.74 479.42,86.31 480.13,85.86 480.83,85.37 481.54,84.86 482.25,84.31 482.96,83.73 483.66,83.11 484.37,82.46 485.08,81.77 485.79,81.04 486.50,80.27 487.20,79.47 487.91,78.62 488.62,77.74 489.33,76.81 490.04,75.85 490.74,74.84 491.45,73.80 492.16,72.73 492.87,71.61 493.57,70.47 494.28,69.29 494.99,68.09 495.70,66.86 496.41,65.61 497.11,64.34 497.82,63.05 498.53,61.76 499.24,60.45 499.95,59.15 500.65,57.84 501.36,56.54 502.07,55.25 502.78,53.97 503.48,52.71 504.19,51.47 504.90,50.25 505.61,49.05 506.32,47.89" fill="none" stroke="#6a2bd0" stroke-width="1.1" stroke-linejoin="round" stroke-linecap="round"/>
<polyline points="466.98,91.38 467.47,91.30 467.96,91.22 468.46,91.13 468.95,91.03 469.44,90.93 469.93,90.81 470.42,90.69 470.91,90.56 471.41,90.43 471.90,90.28 472.39,90.12 472.88,89.95 473.37,89.77 473.86,89.57 474.36,89.37 474.85,89.14 475.34,88.91 475.83,88.66 476.32,88.39 476.81,88.10 477.31,87.79 477.80,87.47 478.29,87.12 478.78,86.75 479.27,86.36 479.76,85.95 480.26,85.51 480.75,85.04 481.24,84.55 481.73,84.03 482.22,83.48 482.71,82.90 483.21,82.28 483.70,81.64 484.19,80.97 484.68,80.26 485.17,79.52 485.66,78.74 486.16,77.93 486.65,77.09 487.14,76.21 487.63,75.30 488.12,74.36 488.61,73.39 489.11,72.39 489.60,71.35 490.09,70.29 490.58,69.21 491.07,68.10 491.56,66.97 492.06,65.82 492.55,64.65 493.04,63.47 493.53,62.28 494.02,61.08 494.52,59.88 495.01,58.67 495.50,57.47 495.99,56.28 496.48,55.09 496.97,53.91 497.47,52.75 497.96,51.60 498.45,50.48 498.94,49.37 499.43,48.29 499.92,47.24 500.42,46.21 500.91,45.22 501.40,44.25 501.89,43.32 502.38,42.42 502.87,41.55 503.37,40.71 503.86,39.91 504.35,39.15 504.84,38.41 505.33,37.71 505.82,37.05 506.32,36.41" fill="none" stroke="#a09a30" stroke-width="1.1" stroke-linejoin="round" stroke-linecap="round"/>
<polyline points="449.69,90.82 450.40,90.69 451.10,90.56 451.81,90.42 452.52,90.27 453.23,90.11 453.94,89.94 454.64,89.75 455.35,89.55 456.06,89.34 456.77,89.11 457.47,88.87 458.18,88.61 458.89,88.34 459.60,88.04 460.31,87.73 461.01,87.39 461.72,87.03 462.43,86.65 463.14,86.25 463.85,85.82 464.55,85.37 465.26,84.88 465.97,84.37 466.68,83.83 467.38,83.26 468.09,82.66 468.80,82.03 469.51,81.36 470.22,80.66 470.92,79.92 471.63,79.15 472.34,78.35 473.05,77.51 473.75,76.64 474.46,75.73 475.17,74.79 475.88,73.81 476.59,72.81 477.29,71.77 478.00,70.70 478.71,69.61 479.42,68.49 480.13,67.35 480.83,66.18 481.54,65.00 482.25,63.81 482.96,62.60 483.66,61.38 484.37,60.16 485.08,58.94 485.79,57.72 486.50,56.50 487.20,55.29 487.91,54.09 488.62,52.91 489.33,51.74 490.04,50.60 490.74,49.47 491.45,48.37 492.16,47.30 492.87,46.26 493.57,45.24 494.28,44.26 494.99,43.31 495.70,42.40 496.41,41.52 497.11,40.67 497.82,39.86 498.53,39.08 499.24,38.34 499.95,37.63 500.65,36.96 501.36,36.32 502.07,35.71 502.78,35.13 503.48,34.59 504.19,34.07 504.90,33.58 505.61,33.12 506.32,32.69" fill="none" stroke="#33ee33" stroke-width="1.1" stroke-linejoin="round" stroke-linecap="round"/>
<polyline points="464.34,92.43 464.86,92.43 465.39,92.42 465.91,92.41 466.44,92.40 466.96,92.39 467.49,92.38 468.01,92.36 468.54,92.34 469.06,92.31 469.59,92.28 470.11,92.24 470.64,92.19 471.16,92.12 471.69,92.04 472.21,91.94 472.74,91.82 473.26,91.67 473.78,91.49 474.31,91.26 474.83,90.97 475.36,90.63 475.88,90.20 476.41,89.67 476.93,89.04 477.46,88.26 477.98,87.32 478.51,86.19 479.03,84.85 479.56,83.26 480.08,81.40 480.61,79.25 481.13,76.81 481.66,74.07 482.18,71.05 482.70,67.79 483.23,64.35 483.75,60.80 484.28,57.22 484.80,53.68 485.33,50.28 485.85,47.07 486.38,44.12 486.90,41.45 487.43,39.07 487.95,36.99 488.48,35.20 489.00,33.67 489.53,32.38 490.05,31.30 490.58,30.40 491.10,29.65 491.62,29.04 492.15,28.54 492.67,28.14 493.20,27.80 493.72,27.53 494.25,27.32 494.77,27.14 495.30,27.00 495.82,26.88 496.35,26.79 496.87,26.71 497.40,26.65 497.92,26.60 498.45,26.56 498.97,26.53 499.49,26.51 500.02,26.48 500.54,26.47 501.07,26.45 501.59,26.44 502.12,26.44 502.64,26.43 503.17,26.42 503.69,26.42 504.22,26.41 504.74,26.41 505.27,26.41 505.79,26.41 506.32,26.41" fill="none" stroke="#000" stroke-width="1.1" stroke-linejoin="round" stroke-linecap="round"/>
<polyline points="449.69,70.59 450.40,70.41 451.10,70.24 451.81,70.06 452.52,69.89 453.23,69.72 453.94,69.54 454.64,69.37 455.35,69.19 456.06,69.02 456.77,68.85 457.47,68.67 458.18,68.50 458.89,68.32 459.60,68.15 460.31,67.97 461.01,67.80 461.72,67.63 462.43,67.45 463.14,67.28 463.85,67.10 464.55,66.93 465.26,66.75 465.97,66.58 466.68,66.41 467.38,66.23 468.09,66.06 468.80,65.88 469.51,65.71 470.22,65.54 470.92,65.36 471.63,65.19 472.34,65.01 473.05,64.84 473.75,64.66 474.46,64.49 475.17,64.32 475.88,64.14 476.59,63.97 477.29,63.79 478.00,63.62 478.71,63.44 479.42,63.27 480.13,63.10 480.83,62.92 481.54,62.75 482.25,62.57 482.96,62.40 483.66,62.23 484.37,62.05 485.08,61.88 485.79,61.70 486.50,61.53 487.20,61.35 487.91,61.18 488.62,61.01 489.33,60.83 490.04,60.66 490.74,60.48 491.45,60.31 492.16,60.14 492.87,59.96 493.57,59.79 494.28,59.61 494.99,59.44 495.70,59.26 496.41,59.09 497.11,58.92 497.82,58.74 498.53,58.57 499.24,58.39 499.95,58.22 500.65,58.04 501.36,57.87 502.07,57.70 502.78,57.52 503.48,57.35 504.19,57.17 504.90,57.00 505.61,56.83 506.32,56.65" fill="none" stroke="#2a9a70" stroke-width="1.1" stroke-linejoin="round" stroke-linecap="round"/>
<polyline points="449.69,79.37 450.40,79.16 451.10,78.94 451.81,78.73 452.52,78.51 453.23,78.29 453.94,78.08 454.64,77.86 455.35,77.65 456.06,77.43 456.77,77.22 457.47,77.00 458.18,76.79 458.89,76.57 459.60,76.36 460.31,76.14 461.01,75.92 461.72,75.71 462.43,75.49 463.14,75.28 463.85,75.06 464.55,74.85 465.26,74.63 465.97,74.42 466.68,74.20 467.38,73.98 468.09,73.77 468.80,73.55 469.51,73.34 470.22,73.12 470.92,72.91 471.63,72.69 472.34,72.48 473.05,72.26 473.75,72.05 474.46,71.83 475.17,71.61 475.88,71.40 476.59,71.18 477.29,70.97 478.00,70.75 478.71,70.54 479.42,70.32 480.13,70.11 480.83,69.89 481.54,69.68 482.25,69.46 482.96,69.24 483.66,69.03 484.37,68.81 485.08,68.60 485.79,68.38 486.50,68.17 487.20,67.95 487.91,67.74 488.62,67.52 489.33,67.30 490.04,67.09 490.74,66.87 491.45,66.66 492.16,66.44 492.87,66.23 493.57,66.01 494.28,65.80 494.99,65.58 495.70,65.37 496.41,65.15 497.11,64.93 497.82,64.72 498.53,64.50 499.24,64.29 499.95,64.07 500.65,63.86 501.36,63.64 502.07,63.43 502.78,63.21 503.48,63.00 504.19,62.78 504.90,62.56 505.61,62.35 506.32,62.13" fill="none" stroke="#22604a" stroke-width="1.1" stroke-linejoin="round" stroke-linecap="round"/>
<line x1="544.00" y1="11.30" x2="553.80" y2="11.30" stroke="#ff1f1f" stroke-width="1.5" />
<text x="556.40" y="14.90" font-size="9.0" text-anchor="start" font-weight="normal" fill="#231f20" stroke="#231f20" stroke-width="0.15" >4M1130</text>
<line x1="544.00" y1="21.07" x2="553.80" y2="21.07" stroke="#ff3b3b" stroke-width="1.5" />
<text x="556.40" y="24.67" font-size="9.0" text-anchor="start" font-weight="normal" fill="#231f20" stroke="#231f20" stroke-width="0.15" >4M1133</text>
<line x1="544.00" y1="30.84" x2="553.80" y2="30.84" stroke="#ff6b6b" stroke-width="1.5" />
<text x="556.40" y="34.44" font-size="9.0" text-anchor="start" font-weight="normal" fill="#231f20" stroke="#231f20" stroke-width="0.15" >4M1154</text>
<line x1="544.00" y1="40.61" x2="553.80" y2="40.61" stroke="#ffa8a8" stroke-width="1.5" />
<text x="556.40" y="44.21" font-size="9.0" text-anchor="start" font-weight="normal" fill="#231f20" stroke="#231f20" stroke-width="0.15" >4M1166</text>
<line x1="544.00" y1="50.38" x2="553.80" y2="50.38" stroke="#ff8a3a" stroke-width="1.5" />
<text x="556.40" y="53.98" font-size="9.0" text-anchor="start" font-weight="normal" fill="#231f20" stroke="#231f20" stroke-width="0.15" >4M1188</text>
<line x1="544.00" y1="60.15" x2="553.80" y2="60.15" stroke="#ff9a33" stroke-width="1.5" />
<text x="556.40" y="63.75" font-size="9.0" text-anchor="start" font-weight="normal" fill="#231f20" stroke="#231f20" stroke-width="0.15" >4M1204</text>
<line x1="544.00" y1="69.92" x2="553.80" y2="69.92" stroke="#ffb366" stroke-width="1.5" />
<text x="556.40" y="73.52" font-size="9.0" text-anchor="start" font-weight="normal" fill="#231f20" stroke="#231f20" stroke-width="0.15" >4M1205</text>
<line x1="544.00" y1="79.69" x2="553.80" y2="79.69" stroke="#ffd8b0" stroke-width="1.5" />
<text x="556.40" y="83.29" font-size="9.0" text-anchor="start" font-weight="bold" fill="#231f20" stroke="#231f20" stroke-width="0.2" >4M1224</text>
<line x1="544.00" y1="89.46" x2="553.80" y2="89.46" stroke="#ffd0a0" stroke-width="1.5" />
<text x="556.40" y="93.06" font-size="9.0" text-anchor="start" font-weight="bold" fill="#231f20" stroke="#231f20" stroke-width="0.2" >4M2131</text>
<line x1="544.00" y1="99.23" x2="553.80" y2="99.23" stroke="#7010c0" stroke-width="1.5" />
<text x="556.40" y="102.83" font-size="9.0" text-anchor="start" font-weight="bold" fill="#231f20" stroke="#231f20" stroke-width="0.2" >5M1111</text>
<line x1="594.70" y1="11.30" x2="604.40" y2="11.30" stroke="#9a20e8" stroke-width="1.5" />
<text x="606.90" y="14.90" font-size="9.0" text-anchor="start" font-weight="normal" fill="#231f20" stroke="#231f20" stroke-width="0.15" >5M1191</text>
<line x1="594.70" y1="21.07" x2="604.40" y2="21.07" stroke="#a846e0" stroke-width="1.5" />
<text x="606.90" y="24.67" font-size="9.0" text-anchor="start" font-weight="normal" fill="#231f20" stroke="#231f20" stroke-width="0.15" >5M1196</text>
<line x1="594.70" y1="30.84" x2="604.40" y2="30.84" stroke="#d890f0" stroke-width="1.5" />
<text x="606.90" y="34.44" font-size="9.0" text-anchor="start" font-weight="normal" fill="#231f20" stroke="#231f20" stroke-width="0.15" >5M1380</text>
<line x1="594.70" y1="40.61" x2="604.40" y2="40.61" stroke="#ff66dd" stroke-width="1.5" />
<text x="606.90" y="44.21" font-size="9.0" text-anchor="start" font-weight="bold" fill="#231f20" stroke="#231f20" stroke-width="0.2" >7M1162</text>
<line x1="594.70" y1="50.38" x2="604.40" y2="50.38" stroke="#3aa882" stroke-width="1.5" />
<text x="606.90" y="53.98" font-size="9.0" text-anchor="start" font-weight="bold" fill="#231f20" stroke="#231f20" stroke-width="0.2" >8M2110</text>
<line x1="594.70" y1="60.15" x2="604.40" y2="60.15" stroke="#a09a30" stroke-width="1.5" />
<text x="606.90" y="63.75" font-size="9.0" text-anchor="start" font-weight="bold" fill="#231f20" stroke="#231f20" stroke-width="0.2" >10M1135</text>
<line x1="594.70" y1="69.92" x2="604.40" y2="69.92" stroke="#2a6a50" stroke-width="1.5" />
<text x="606.90" y="73.52" font-size="9.0" text-anchor="start" font-weight="bold" fill="#231f20" stroke="#231f20" stroke-width="0.2" >10M2146</text>
<line x1="594.70" y1="79.69" x2="604.40" y2="79.69" stroke="#55dd55" stroke-width="1.5" />
<text x="606.90" y="83.29" font-size="9.0" text-anchor="start" font-weight="bold" fill="#231f20" stroke="#231f20" stroke-width="0.2" >10M2154</text>
<line x1="594.70" y1="89.46" x2="604.40" y2="89.46" stroke="#444444" stroke-width="1.5" />
<text x="606.90" y="93.06" font-size="9.0" text-anchor="start" font-weight="normal" fill="#231f20" stroke="#231f20" stroke-width="0.15" >7D11</text>
<line x1="594.70" y1="99.23" x2="604.40" y2="99.23" stroke="#888888" stroke-width="1.5" />
<text x="606.90" y="102.83" font-size="9.0" text-anchor="start" font-weight="normal" fill="#231f20" stroke="#231f20" stroke-width="0.15" >MGO53</text>
<text x="6.00" y="151.30" font-size="10.5" text-anchor="start" font-weight="bold" fill="#000" stroke="#000" stroke-width="0.2" >c</text>
<text x="119.00" y="144.60" font-size="9.5" text-anchor="middle" font-weight="normal" fill="#231f20" stroke="#231f20" stroke-width="0.15" >VACV WR</text>
<text x="306.00" y="144.60" font-size="9.5" text-anchor="middle" font-weight="normal" fill="#231f20" stroke="#231f20" stroke-width="0.15" >VACV Copenhagen</text>
<text x="492.00" y="144.60" font-size="9.5" text-anchor="middle" font-weight="normal" fill="#231f20" stroke="#231f20" stroke-width="0.15" >VACV IHDJ</text>
<line x1="38.50" y1="147.60" x2="200.00" y2="147.60" stroke="#231f20" stroke-width="1.4" />
<line x1="223.80" y1="147.60" x2="388.50" y2="147.60" stroke="#231f20" stroke-width="1.4" />
<line x1="411.50" y1="147.60" x2="573.50" y2="147.60" stroke="#231f20" stroke-width="1.4" />
<text x="76.30" y="159.20" font-size="9.5" text-anchor="middle" font-weight="normal" fill="#231f20" stroke="#231f20" stroke-width="0.15" >no complement</text>
<text x="169.30" y="159.20" font-size="9.5" text-anchor="middle" font-weight="normal" fill="#231f20" stroke="#231f20" stroke-width="0.15" >1.5% NHS</text>
<text x="262.40" y="159.20" font-size="9.5" text-anchor="middle" font-weight="normal" fill="#231f20" stroke="#231f20" stroke-width="0.15" >no complement</text>
<text x="357.00" y="159.20" font-size="9.5" text-anchor="middle" font-weight="normal" fill="#231f20" stroke="#231f20" stroke-width="0.15" >1.5% NHS</text>
<text x="449.60" y="159.20" font-size="9.5" text-anchor="middle" font-weight="normal" fill="#231f20" stroke="#231f20" stroke-width="0.15" >no complement</text>
<text x="542.80" y="159.20" font-size="9.5" text-anchor="middle" font-weight="normal" fill="#231f20" stroke="#231f20" stroke-width="0.15" >1.5% NHS</text>
<line x1="14.80" y1="249.00" x2="14.80" y2="163.00" stroke="#231f20" stroke-width="1.1" />
<path d="M11.80,164.00 L14.80,159.00 L17.80,164.00 Z" fill="#000"/>
<line x1="14.30" y1="249.00" x2="577.00" y2="249.00" stroke="#231f20" stroke-width="1.1" />
<path d="M576.00,246.00 L581.00,249.00 L576.00,252.00 Z" fill="#000"/>
<text x="6.90" y="211.80" font-size="9.5" text-anchor="middle" font-weight="normal" fill="#231f20" stroke="#231f20" stroke-width="0.15" transform="rotate(-90 6.9 211.8)">Neutralization (%)</text>
<text x="13.00" y="259.00" font-size="9.5" text-anchor="start" font-weight="normal" fill="#231f20" stroke="#231f20" stroke-width="0.15" >mAb concentration (µg/mL)</text>
<line x1="40.05" y1="163.00" x2="40.05" y2="230.40" stroke="#231f20" stroke-width="1" />
<line x1="32.75" y1="229.90" x2="40.05" y2="229.90" stroke="#231f20" stroke-width="1" />
<text x="31.45" y="232.15" font-size="8.1" text-anchor="end" font-weight="normal" fill="#231f20" stroke="#231f20" stroke-width="0.15" >0</text>
<line x1="32.75" y1="213.30" x2="40.05" y2="213.30" stroke="#231f20" stroke-width="1" />
<text x="31.45" y="215.55" font-size="8.1" text-anchor="end" font-weight="normal" fill="#231f20" stroke="#231f20" stroke-width="0.15" >25</text>
<line x1="32.75" y1="196.70" x2="40.05" y2="196.70" stroke="#231f20" stroke-width="1" />
<text x="31.45" y="198.95" font-size="8.1" text-anchor="end" font-weight="normal" fill="#231f20" stroke="#231f20" stroke-width="0.15" >50</text>
<line x1="32.75" y1="180.10" x2="40.05" y2="180.10" stroke="#231f20" stroke-width="1" />
<text x="31.45" y="182.35" font-size="8.1" text-anchor="end" font-weight="normal" fill="#231f20" stroke="#231f20" stroke-width="0.15" >75</text>
<line x1="32.75" y1="163.50" x2="40.05" y2="163.50" stroke="#231f20" stroke-width="1" />
<text x="31.45" y="165.75" font-size="8.1" text-anchor="end" font-weight="normal" fill="#231f20" stroke="#231f20" stroke-width="0.15" >100</text>
<line x1="40.05" y1="229.90" x2="107.25" y2="229.90" stroke="#231f20" stroke-width="1" />
<line x1="46.60" y1="229.90" x2="46.60" y2="237.20" stroke="#231f20" stroke-width="1" />
<text transform="translate(38.50 245.60) scale(0.85 1)" font-size="9.6" fill="#231f20" stroke="#231f20" stroke-width="0.12">10<tspan dx="1.9" dy="-2.6" font-size="6.8" stroke-width="0.35">-1</tspan></text>
<line x1="66.65" y1="229.90" x2="66.65" y2="237.20" stroke="#231f20" stroke-width="1" />
<text transform="translate(58.55 245.60) scale(0.85 1)" font-size="9.6" fill="#231f20" stroke="#231f20" stroke-width="0.12">10<tspan dx="1.9" dy="-2.6" font-size="6.8" stroke-width="0.35">0</tspan></text>
<line x1="86.70" y1="229.90" x2="86.70" y2="237.20" stroke="#231f20" stroke-width="1" />
<text transform="translate(78.60 245.60) scale(0.85 1)" font-size="9.6" fill="#231f20" stroke="#231f20" stroke-width="0.12">10<tspan dx="1.9" dy="-2.6" font-size="6.8" stroke-width="0.35">1</tspan></text>
<line x1="106.75" y1="229.90" x2="106.75" y2="237.20" stroke="#231f20" stroke-width="1" />
<text transform="translate(98.65 245.60) scale(0.85 1)" font-size="9.6" fill="#231f20" stroke="#231f20" stroke-width="0.12">10<tspan dx="1.9" dy="-2.6" font-size="6.8" stroke-width="0.35">2</tspan></text>
<polyline points="41.19,229.24 41.96,229.23 42.73,229.23 43.49,229.22 44.26,229.22 45.03,229.21 45.80,229.21 46.57,229.20 47.34,229.20 48.11,229.19 48.88,229.19 49.65,229.18 50.42,229.18 51.19,229.17 51.96,229.17 52.73,229.16 53.50,229.16 54.27,229.15 55.04,229.15 55.81,229.14 56.57,229.14 57.34,229.13 58.11,229.13 58.88,229.12 59.65,229.12 60.42,229.11 61.19,229.11 61.96,229.10 62.73,229.10 63.50,229.09 64.27,229.09 65.04,229.08 65.81,229.08 66.58,229.07 67.35,229.07 68.12,229.06 68.89,229.06 69.65,229.05 70.42,229.05 71.19,229.04 71.96,229.04 72.73,229.03 73.50,229.03 74.27,229.02 75.04,229.02 75.81,229.01 76.58,229.01 77.35,229.00 78.12,229.00 78.89,228.99 79.66,228.99 80.43,228.98 81.20,228.98 81.97,228.97 82.74,228.97 83.50,228.96 84.27,228.96 85.04,228.95 85.81,228.95 86.58,228.94 87.35,228.94 88.12,228.93 88.89,228.93 89.66,228.92 90.43,228.92 91.20,228.91 91.97,228.91 92.74,228.90 93.51,228.90 94.28,228.89 95.05,228.89 95.82,228.88 96.58,228.88 97.35,228.87 98.12,228.87 98.89,228.86 99.66,228.86 100.43,228.85 101.20,228.85 101.97,228.84 102.74,228.84" fill="none" stroke="#ff44dd" stroke-width="1.1" stroke-linejoin="round" stroke-linecap="round"/>
<polyline points="41.19,229.57 41.96,229.57 42.73,229.57 43.49,229.57 44.26,229.57 45.03,229.57 45.80,229.57 46.57,229.57 47.34,229.57 48.11,229.57 48.88,229.57 49.65,229.57 50.42,229.57 51.19,229.57 51.96,229.57 52.73,229.57 53.50,229.57 54.27,229.57 55.04,229.57 55.81,229.57 56.57,229.57 57.34,229.57 58.11,229.57 58.88,229.57 59.65,229.57 60.42,229.57 61.19,229.57 61.96,229.57 62.73,229.57 63.50,229.57 64.27,229.57 65.04,229.57 65.81,229.57 66.58,229.57 67.35,229.57 68.12,229.57 68.89,229.57 69.65,229.57 70.42,229.57 71.19,229.57 71.96,229.57 72.73,229.57 73.50,229.57 74.27,229.57 75.04,229.57 75.81,229.57 76.58,229.57 77.35,229.57 78.12,229.57 78.89,229.57 79.66,229.57 80.43,229.57 81.20,229.57 81.97,229.57 82.74,229.57 83.50,229.57 84.27,229.57 85.04,229.57 85.81,229.57 86.58,229.57 87.35,229.57 88.12,229.57 88.89,229.57 89.66,229.57 90.43,229.57 91.20,229.57 91.97,229.57 92.74,229.57 93.51,229.57 94.28,229.57 95.05,229.57 95.82,229.57 96.58,229.57 97.35,229.57 98.12,229.57 98.89,229.57 99.66,229.57 100.43,229.57 101.20,229.57 101.97,229.57 102.74,229.57" fill="none" stroke="#ff3b3b" stroke-width="1.6" stroke-linejoin="round" stroke-linecap="round"/>
<polyline points="41.19,227.38 41.96,227.34 42.73,227.30 43.49,227.26 44.26,227.22 45.03,227.18 45.80,227.14 46.57,227.10 47.34,227.06 48.11,227.02 48.88,226.97 49.65,226.93 50.42,226.88 51.19,226.84 51.96,226.79 52.73,226.75 53.50,226.70 54.27,226.65 55.04,226.60 55.81,226.55 56.57,226.50 57.34,226.45 58.11,226.39 58.88,226.34 59.65,226.29 60.42,226.23 61.19,226.17 61.96,226.12 62.73,226.06 63.50,226.00 64.27,225.94 65.04,225.88 65.81,225.82 66.58,225.75 67.35,225.69 68.12,225.62 68.89,225.56 69.65,225.49 70.42,225.42 71.19,225.35 71.96,225.28 72.73,225.21 73.50,225.14 74.27,225.06 75.04,224.99 75.81,224.91 76.58,224.83 77.35,224.75 78.12,224.67 78.89,224.59 79.66,224.51 80.43,224.42 81.20,224.34 81.97,224.25 82.74,224.16 83.50,224.07 84.27,223.98 85.04,223.89 85.81,223.79 86.58,223.70 87.35,223.60 88.12,223.50 88.89,223.40 89.66,223.29 90.43,223.19 91.20,223.08 91.97,222.98 92.74,222.87 93.51,222.76 94.28,222.64 95.05,222.53 95.82,222.41 96.58,222.29 97.35,222.17 98.12,222.05 98.89,221.92 99.66,221.80 100.43,221.67 101.20,221.54 101.97,221.40 102.74,221.27" fill="none" stroke="#ffb366" stroke-width="1.1" stroke-linejoin="round" stroke-linecap="round"/>
<polyline points="41.19,207.35 41.96,205.69 42.73,203.99 43.49,202.23 44.26,200.45 45.03,198.65 45.80,196.83 46.57,195.01 47.34,193.21 48.11,191.42 48.88,189.66 49.65,187.95 50.42,186.28 51.19,184.67 51.96,183.12 52.73,181.64 53.50,180.23 54.27,178.90 55.04,177.64 55.81,176.46 56.57,175.36 57.34,174.33 58.11,173.37 58.88,172.48 59.65,171.67 60.42,170.91 61.19,170.22 61.96,169.59 62.73,169.01 63.50,168.48 64.27,168.00 65.04,167.56 65.81,167.16 66.58,166.80 67.35,166.47 68.12,166.18 68.89,165.91 69.65,165.67 70.42,165.45 71.19,165.25 71.96,165.07 72.73,164.91 73.50,164.77 74.27,164.64 75.04,164.52 75.81,164.42 76.58,164.33 77.35,164.24 78.12,164.16 78.89,164.10 79.66,164.03 80.43,163.98 81.20,163.93 81.97,163.89 82.74,163.85 83.50,163.81 84.27,163.78 85.04,163.75 85.81,163.72 86.58,163.70 87.35,163.68 88.12,163.66 88.89,163.64 89.66,163.63 90.43,163.62 91.20,163.60 91.97,163.59 92.74,163.58 93.51,163.57 94.28,163.57 95.05,163.56 95.82,163.55 96.58,163.55 97.35,163.54 98.12,163.54 98.89,163.53 99.66,163.53 100.43,163.53 101.20,163.53 101.97,163.52 102.74,163.52" fill="none" stroke="#000" stroke-width="1.1" stroke-linejoin="round" stroke-linecap="round"/>
<line x1="133.30" y1="163.00" x2="133.30" y2="230.40" stroke="#231f20" stroke-width="1" />
<line x1="126.00" y1="229.90" x2="133.30" y2="229.90" stroke="#231f20" stroke-width="1" />
<text x="124.70" y="232.15" font-size="8.1" text-anchor="end" font-weight="normal" fill="#231f20" stroke="#231f20" stroke-width="0.15" >0</text>
<line x1="126.00" y1="213.30" x2="133.30" y2="213.30" stroke="#231f20" stroke-width="1" />
<text x="124.70" y="215.55" font-size="8.1" text-anchor="end" font-weight="normal" fill="#231f20" stroke="#231f20" stroke-width="0.15" >25</text>
<line x1="126.00" y1="196.70" x2="133.30" y2="196.70" stroke="#231f20" stroke-width="1" />
<text x="124.70" y="198.95" font-size="8.1" text-anchor="end" font-weight="normal" fill="#231f20" stroke="#231f20" stroke-width="0.15" >50</text>
<line x1="126.00" y1="180.10" x2="133.30" y2="180.10" stroke="#231f20" stroke-width="1" />
<text x="124.70" y="182.35" font-size="8.1" text-anchor="end" font-weight="normal" fill="#231f20" stroke="#231f20" stroke-width="0.15" >75</text>
<line x1="126.00" y1="163.50" x2="133.30" y2="163.50" stroke="#231f20" stroke-width="1" />
<text x="124.70" y="165.75" font-size="8.1" text-anchor="end" font-weight="normal" fill="#231f20" stroke="#231f20" stroke-width="0.15" >100</text>
<line x1="133.30" y1="229.90" x2="199.95" y2="229.90" stroke="#231f20" stroke-width="1" />
<line x1="139.30" y1="229.90" x2="139.30" y2="237.20" stroke="#231f20" stroke-width="1" />
<text transform="translate(131.20 245.60) scale(0.85 1)" font-size="9.6" fill="#231f20" stroke="#231f20" stroke-width="0.12">10<tspan dx="1.9" dy="-2.6" font-size="6.8" stroke-width="0.35">-1</tspan></text>
<line x1="159.35" y1="229.90" x2="159.35" y2="237.20" stroke="#231f20" stroke-width="1" />
<text transform="translate(151.25 245.60) scale(0.85 1)" font-size="9.6" fill="#231f20" stroke="#231f20" stroke-width="0.12">10<tspan dx="1.9" dy="-2.6" font-size="6.8" stroke-width="0.35">0</tspan></text>
<line x1="179.40" y1="229.90" x2="179.40" y2="237.20" stroke="#231f20" stroke-width="1" />
<text transform="translate(171.30 245.60) scale(0.85 1)" font-size="9.6" fill="#231f20" stroke="#231f20" stroke-width="0.12">10<tspan dx="1.9" dy="-2.6" font-size="6.8" stroke-width="0.35">1</tspan></text>
<line x1="199.45" y1="229.90" x2="199.45" y2="237.20" stroke="#231f20" stroke-width="1" />
<text transform="translate(191.35 245.60) scale(0.85 1)" font-size="9.6" fill="#231f20" stroke="#231f20" stroke-width="0.12">10<tspan dx="1.9" dy="-2.6" font-size="6.8" stroke-width="0.35">2</tspan></text>
<polyline points="190.43,229.90 190.49,229.90 190.55,229.90 190.62,229.90 190.68,229.90 190.74,229.89 190.80,229.89 190.87,229.88 190.93,229.88 190.99,229.87 191.05,229.87 191.12,229.86 191.18,229.86 191.24,229.85 191.30,229.84 191.37,229.83 191.43,229.82 191.49,229.81 191.56,229.80 191.62,229.79 191.68,229.78 191.74,229.76 191.81,229.75 191.87,229.74 191.93,229.72 191.99,229.71 192.06,229.69 192.12,229.67 192.18,229.66 192.24,229.64 192.31,229.62 192.37,229.60 192.43,229.58 192.50,229.56 192.56,229.54 192.62,229.52 192.68,229.50 192.75,229.47 192.81,229.45 192.87,229.43 192.93,229.40 193.00,229.38 193.06,229.35 193.12,229.32 193.18,229.30 193.25,229.27 193.31,229.24 193.37,229.21 193.44,229.18 193.50,229.15 193.56,229.12 193.62,229.09 193.69,229.06 193.75,229.03 193.81,228.99 193.87,228.96 193.94,228.92 194.00,228.89 194.06,228.85 194.12,228.82 194.19,228.78 194.25,228.74 194.31,228.70 194.37,228.66 194.44,228.63 194.50,228.58 194.56,228.54 194.63,228.50 194.69,228.46 194.75,228.42 194.81,228.37 194.88,228.33 194.94,228.29 195.00,228.24 195.06,228.20 195.13,228.15 195.19,228.10 195.25,228.05 195.31,228.01 195.38,227.96 195.44,227.91" fill="none" stroke="#2a8a5a" stroke-width="1.1" stroke-linejoin="round" stroke-linecap="round"/>
<polyline points="133.89,229.77 134.66,229.75 135.43,229.74 136.19,229.72 136.96,229.71 137.73,229.69 138.50,229.67 139.27,229.65 140.04,229.63 140.81,229.61 141.58,229.59 142.35,229.57 143.12,229.55 143.89,229.52 144.66,229.49 145.43,229.47 146.20,229.44 146.97,229.41 147.74,229.37 148.51,229.34 149.27,229.30 150.04,229.27 150.81,229.23 151.58,229.18 152.35,229.14 153.12,229.09 153.89,229.05 154.66,229.00 155.43,228.94 156.20,228.89 156.97,228.83 157.74,228.76 158.51,228.70 159.28,228.63 160.05,228.56 160.82,228.48 161.59,228.40 162.35,228.32 163.12,228.23 163.89,228.14 164.66,228.04 165.43,227.94 166.20,227.83 166.97,227.72 167.74,227.60 168.51,227.47 169.28,227.34 170.05,227.21 170.82,227.06 171.59,226.91 172.36,226.75 173.13,226.58 173.90,226.40 174.67,226.21 175.44,226.02 176.20,225.81 176.97,225.60 177.74,225.37 178.51,225.13 179.28,224.88 180.05,224.61 180.82,224.33 181.59,224.04 182.36,223.73 183.13,223.41 183.90,223.07 184.67,222.71 185.44,222.34 186.21,221.94 186.98,221.53 187.75,221.09 188.52,220.64 189.28,220.15 190.05,219.65 190.82,219.11 191.59,218.55 192.36,217.96 193.13,217.35 193.90,216.70 194.67,216.01 195.44,215.29" fill="none" stroke="#ff9090" stroke-width="1.1" stroke-linejoin="round" stroke-linecap="round"/>
<polyline points="133.89,229.77 134.66,229.76 135.43,229.75 136.19,229.75 136.96,229.74 137.73,229.73 138.50,229.72 139.27,229.71 140.04,229.70 140.81,229.69 141.58,229.68 142.35,229.67 143.12,229.66 143.89,229.65 144.66,229.63 145.43,229.62 146.20,229.60 146.97,229.59 147.74,229.57 148.51,229.55 149.27,229.54 150.04,229.52 150.81,229.50 151.58,229.48 152.35,229.45 153.12,229.43 153.89,229.40 154.66,229.38 155.43,229.35 156.20,229.32 156.97,229.29 157.74,229.26 158.51,229.22 159.28,229.19 160.05,229.15 160.82,229.11 161.59,229.07 162.35,229.02 163.12,228.98 163.89,228.93 164.66,228.88 165.43,228.82 166.20,228.76 166.97,228.70 167.74,228.64 168.51,228.57 169.28,228.50 170.05,228.43 170.82,228.35 171.59,228.26 172.36,228.18 173.13,228.08 173.90,227.99 174.67,227.88 175.44,227.77 176.20,227.66 176.97,227.54 177.74,227.41 178.51,227.28 179.28,227.14 180.05,226.99 180.82,226.83 181.59,226.67 182.36,226.50 183.13,226.31 183.90,226.12 184.67,225.92 185.44,225.70 186.21,225.48 186.98,225.24 187.75,224.99 188.52,224.72 189.28,224.44 190.05,224.15 190.82,223.84 191.59,223.51 192.36,223.17 193.13,222.81 193.90,222.43 194.67,222.02 195.44,221.60" fill="none" stroke="#ffb870" stroke-width="1.1" stroke-linejoin="round" stroke-linecap="round"/>
<polyline points="133.89,229.77 134.66,229.76 135.43,229.76 136.19,229.76 136.96,229.75 137.73,229.75 138.50,229.74 139.27,229.74 140.04,229.73 140.81,229.72 141.58,229.72 142.35,229.71 143.12,229.70 143.89,229.70 144.66,229.69 145.43,229.68 146.20,229.67 146.97,229.66 147.74,229.65 148.51,229.64 149.27,229.63 150.04,229.62 150.81,229.61 151.58,229.59 152.35,229.58 153.12,229.56 153.89,229.55 154.66,229.53 155.43,229.52 156.20,229.50 156.97,229.48 157.74,229.46 158.51,229.44 159.28,229.41 160.05,229.39 160.82,229.36 161.59,229.34 162.35,229.31 163.12,229.28 163.89,229.24 164.66,229.21 165.43,229.17 166.20,229.14 166.97,229.10 167.74,229.05 168.51,229.01 169.28,228.96 170.05,228.91 170.82,228.86 171.59,228.80 172.36,228.74 173.13,228.68 173.90,228.61 174.67,228.54 175.44,228.46 176.20,228.38 176.97,228.30 177.74,228.21 178.51,228.12 179.28,228.02 180.05,227.91 180.82,227.80 181.59,227.69 182.36,227.56 183.13,227.43 183.90,227.29 184.67,227.14 185.44,226.99 186.21,226.82 186.98,226.65 187.75,226.47 188.52,226.27 189.28,226.07 190.05,225.85 190.82,225.62 191.59,225.37 192.36,225.11 193.13,224.84 193.90,224.55 194.67,224.25 195.44,223.92" fill="none" stroke="#ff4040" stroke-width="1.1" stroke-linejoin="round" stroke-linecap="round"/>
<polyline points="133.89,229.77 134.66,229.77 135.43,229.76 136.19,229.76 136.96,229.76 137.73,229.76 138.50,229.75 139.27,229.75 140.04,229.75 140.81,229.74 141.58,229.74 142.35,229.74 143.12,229.73 143.89,229.73 144.66,229.73 145.43,229.72 146.20,229.72 146.97,229.71 147.74,229.71 148.51,229.70 149.27,229.69 150.04,229.69 150.81,229.68 151.58,229.67 152.35,229.66 153.12,229.66 153.89,229.65 154.66,229.64 155.43,229.63 156.20,229.62 156.97,229.61 157.74,229.59 158.51,229.58 159.28,229.57 160.05,229.55 160.82,229.54 161.59,229.52 162.35,229.50 163.12,229.49 163.89,229.47 164.66,229.45 165.43,229.43 166.20,229.40 166.97,229.38 167.74,229.35 168.51,229.32 169.28,229.29 170.05,229.26 170.82,229.23 171.59,229.19 172.36,229.16 173.13,229.12 173.90,229.08 174.67,229.03 175.44,228.98 176.20,228.93 176.97,228.88 177.74,228.82 178.51,228.76 179.28,228.70 180.05,228.63 180.82,228.56 181.59,228.48 182.36,228.40 183.13,228.31 183.90,228.22 184.67,228.12 185.44,228.02 186.21,227.91 186.98,227.79 187.75,227.67 188.52,227.54 189.28,227.40 190.05,227.25 190.82,227.09 191.59,226.92 192.36,226.74 193.13,226.56 193.90,226.36 194.67,226.14 195.44,225.92" fill="none" stroke="#ff6060" stroke-width="1.1" stroke-linejoin="round" stroke-linecap="round"/>
<polyline points="133.89,222.20 134.66,222.08 135.43,221.96 136.19,221.84 136.96,221.72 137.73,221.60 138.50,221.47 139.27,221.34 140.04,221.22 140.81,221.08 141.58,220.95 142.35,220.82 143.12,220.68 143.89,220.54 144.66,220.40 145.43,220.26 146.20,220.12 146.97,219.97 147.74,219.83 148.51,219.68 149.27,219.52 150.04,219.37 150.81,219.21 151.58,219.06 152.35,218.89 153.12,218.73 153.89,218.57 154.66,218.40 155.43,218.23 156.20,218.06 156.97,217.88 157.74,217.71 158.51,217.53 159.28,217.35 160.05,217.16 160.82,216.98 161.59,216.79 162.35,216.59 163.12,216.40 163.89,216.20 164.66,216.00 165.43,215.80 166.20,215.59 166.97,215.39 167.74,215.17 168.51,214.96 169.28,214.74 170.05,214.52 170.82,214.30 171.59,214.07 172.36,213.84 173.13,213.61 173.90,213.38 174.67,213.14 175.44,212.89 176.20,212.65 176.97,212.40 177.74,212.15 178.51,211.89 179.28,211.63 180.05,211.37 180.82,211.10 181.59,210.83 182.36,210.56 183.13,210.28 183.90,210.00 184.67,209.71 185.44,209.42 186.21,209.13 186.98,208.83 187.75,208.53 188.52,208.22 189.28,207.91 190.05,207.59 190.82,207.28 191.59,206.95 192.36,206.62 193.13,206.29 193.90,205.95 194.67,205.61 195.44,205.27" fill="none" stroke="#f5b080" stroke-width="1.1" stroke-linejoin="round" stroke-linecap="round"/>
<polyline points="133.89,229.73 134.64,229.73 135.39,229.73 136.13,229.73 136.88,229.73 137.63,229.73 138.38,229.73 139.13,229.73 139.88,229.73 140.63,229.73 141.38,229.73 142.13,229.73 142.88,229.73 143.63,229.73 144.38,229.73 145.13,229.73 145.88,229.73 146.63,229.73 147.38,229.73 148.12,229.73 148.87,229.73 149.62,229.73 150.37,229.73 151.12,229.73 151.87,229.73 152.62,229.73 153.37,229.73 154.12,229.73 154.87,229.73 155.62,229.73 156.37,229.73 157.12,229.73 157.87,229.73 158.62,229.73 159.37,229.73 160.11,229.73 160.86,229.73 161.61,229.73 162.36,229.73 163.11,229.73 163.86,229.73 164.61,229.73 165.36,229.73 166.11,229.73 166.86,229.73 167.61,229.73 168.36,229.73 169.11,229.73 169.86,229.73 170.61,229.73 171.35,229.73 172.10,229.73 172.85,229.73 173.60,229.73 174.35,229.73 175.10,229.73 175.85,229.73 176.60,229.73 177.35,229.73 178.10,229.73 178.85,229.73 179.60,229.73 180.35,229.73 181.10,229.73 181.85,229.73 182.60,229.73 183.34,229.73 184.09,229.73 184.84,229.73 185.59,229.73 186.34,229.73 187.09,229.73 187.84,229.73 188.59,229.73 189.34,229.73 190.09,229.73 190.84,229.73 191.59,229.73 192.34,229.73 193.09,229.73 193.84,229.73" fill="none" stroke="#ff1f1f" stroke-width="1.6" stroke-linejoin="round" stroke-linecap="round"/>
<polyline points="133.89,225.10 134.66,224.84 135.43,224.56 136.19,224.27 136.96,223.96 137.73,223.63 138.50,223.30 139.27,222.94 140.04,222.57 140.81,222.18 141.58,221.77 142.35,221.35 143.12,220.90 143.89,220.44 144.66,219.96 145.43,219.45 146.20,218.93 146.97,218.39 147.74,217.82 148.51,217.23 149.27,216.62 150.04,215.99 150.81,215.34 151.58,214.67 152.35,213.97 153.12,213.26 153.89,212.52 154.66,211.76 155.43,210.98 156.20,210.18 156.97,209.36 157.74,208.53 158.51,207.67 159.28,206.80 160.05,205.92 160.82,205.02 161.59,204.10 162.35,203.18 163.12,202.24 163.89,201.30 164.66,200.34 165.43,199.38 166.20,198.42 166.97,197.45 167.74,196.49 168.51,195.52 169.28,194.55 170.05,193.59 170.82,192.63 171.59,191.68 172.36,190.74 173.13,189.81 173.90,188.89 174.67,187.98 175.44,187.09 176.20,186.21 176.97,185.35 177.74,184.50 178.51,183.67 179.28,182.86 180.05,182.07 180.82,181.30 181.59,180.55 182.36,179.82 183.13,179.12 183.90,178.43 184.67,177.77 185.44,177.12 186.21,176.50 186.98,175.90 187.75,175.33 188.52,174.77 189.28,174.24 190.05,173.72 190.82,173.23 191.59,172.75 192.36,172.30 193.13,171.86 193.90,171.44 194.67,171.05 195.44,170.66" fill="none" stroke="#ff44dd" stroke-width="1.1" stroke-linejoin="round" stroke-linecap="round"/>
<polyline points="133.89,184.45 134.66,184.21 135.43,183.97 136.19,183.74 136.96,183.50 137.73,183.27 138.50,183.03 139.27,182.80 140.04,182.57 140.81,182.35 141.58,182.12 142.35,181.90 143.12,181.68 143.89,181.45 144.66,181.24 145.43,181.02 146.20,180.80 146.97,180.59 147.74,180.38 148.51,180.17 149.27,179.96 150.04,179.75 150.81,179.54 151.58,179.34 152.35,179.14 153.12,178.94 153.89,178.74 154.66,178.55 155.43,178.35 156.20,178.16 156.97,177.97 157.74,177.78 158.51,177.59 159.28,177.41 160.05,177.22 160.82,177.04 161.59,176.86 162.35,176.68 163.12,176.51 163.89,176.33 164.66,176.16 165.43,175.99 166.20,175.82 166.97,175.65 167.74,175.48 168.51,175.32 169.28,175.16 170.05,175.00 170.82,174.84 171.59,174.68 172.36,174.53 173.13,174.37 173.90,174.22 174.67,174.07 175.44,173.92 176.20,173.78 176.97,173.63 177.74,173.49 178.51,173.35 179.28,173.21 180.05,173.07 180.82,172.93 181.59,172.80 182.36,172.66 183.13,172.53 183.90,172.40 184.67,172.27 185.44,172.15 186.21,172.02 186.98,171.90 187.75,171.77 188.52,171.65 189.28,171.53 190.05,171.42 190.82,171.30 191.59,171.18 192.36,171.07 193.13,170.96 193.90,170.85 194.67,170.74 195.44,170.63" fill="none" stroke="#2a9a70" stroke-width="1.1" stroke-linejoin="round" stroke-linecap="round"/>
<polyline points="133.89,175.43 134.66,173.66 135.43,172.12 136.19,170.78 136.96,169.63 137.73,168.64 138.50,167.80 139.27,167.09 140.04,166.49 140.81,165.99 141.58,165.57 142.35,165.22 143.12,164.92 143.89,164.68 144.66,164.48 145.43,164.31 146.20,164.17 146.97,164.05 147.74,163.96 148.51,163.88 149.27,163.81 150.04,163.76 150.81,163.71 151.58,163.68 152.35,163.65 153.12,163.62 153.89,163.60 154.66,163.58 155.43,163.57 156.20,163.56 156.97,163.55 157.74,163.54 158.51,163.53 159.28,163.53 160.05,163.52 160.82,163.52 161.59,163.51 162.35,163.51 163.12,163.51 163.89,163.51 164.66,163.51 165.43,163.51 166.20,163.50 166.97,163.50 167.74,163.50 168.51,163.50 169.28,163.50 170.05,163.50 170.82,163.50 171.59,163.50 172.36,163.50 173.13,163.50 173.90,163.50 174.67,163.50 175.44,163.50 176.20,163.50 176.97,163.50 177.74,163.50 178.51,163.50 179.28,163.50 180.05,163.50 180.82,163.50 181.59,163.50 182.36,163.50 183.13,163.50 183.90,163.50 184.67,163.50 185.44,163.50 186.21,163.50 186.98,163.50 187.75,163.50 188.52,163.50 189.28,163.50 190.05,163.50 190.82,163.50 191.59,163.50 192.36,163.50 193.13,163.50 193.90,163.50 194.67,163.50 195.44,163.50" fill="none" stroke="#000" stroke-width="1.1" stroke-linejoin="round" stroke-linecap="round"/>
<line x1="225.75" y1="163.00" x2="225.75" y2="230.40" stroke="#231f20" stroke-width="1" />
<line x1="218.45" y1="229.90" x2="225.75" y2="229.90" stroke="#231f20" stroke-width="1" />
<text x="217.15" y="232.15" font-size="8.1" text-anchor="end" font-weight="normal" fill="#231f20" stroke="#231f20" stroke-width="0.15" >0</text>
<line x1="218.45" y1="213.30" x2="225.75" y2="213.30" stroke="#231f20" stroke-width="1" />
<text x="217.15" y="215.55" font-size="8.1" text-anchor="end" font-weight="normal" fill="#231f20" stroke="#231f20" stroke-width="0.15" >25</text>
<line x1="218.45" y1="196.70" x2="225.75" y2="196.70" stroke="#231f20" stroke-width="1" />
<text x="217.15" y="198.95" font-size="8.1" text-anchor="end" font-weight="normal" fill="#231f20" stroke="#231f20" stroke-width="0.15" >50</text>
<line x1="218.45" y1="180.10" x2="225.75" y2="180.10" stroke="#231f20" stroke-width="1" />
<text x="217.15" y="182.35" font-size="8.1" text-anchor="end" font-weight="normal" fill="#231f20" stroke="#231f20" stroke-width="0.15" >75</text>
<line x1="218.45" y1="163.50" x2="225.75" y2="163.50" stroke="#231f20" stroke-width="1" />
<text x="217.15" y="165.75" font-size="8.1" text-anchor="end" font-weight="normal" fill="#231f20" stroke="#231f20" stroke-width="0.15" >100</text>
<line x1="225.75" y1="229.90" x2="292.30" y2="229.90" stroke="#231f20" stroke-width="1" />
<line x1="231.65" y1="229.90" x2="231.65" y2="237.20" stroke="#231f20" stroke-width="1" />
<text transform="translate(223.55 245.60) scale(0.85 1)" font-size="9.6" fill="#231f20" stroke="#231f20" stroke-width="0.12">10<tspan dx="1.9" dy="-2.6" font-size="6.8" stroke-width="0.35">-1</tspan></text>
<line x1="251.70" y1="229.90" x2="251.70" y2="237.20" stroke="#231f20" stroke-width="1" />
<text transform="translate(243.60 245.60) scale(0.85 1)" font-size="9.6" fill="#231f20" stroke="#231f20" stroke-width="0.12">10<tspan dx="1.9" dy="-2.6" font-size="6.8" stroke-width="0.35">0</tspan></text>
<line x1="271.75" y1="229.90" x2="271.75" y2="237.20" stroke="#231f20" stroke-width="1" />
<text transform="translate(263.65 245.60) scale(0.85 1)" font-size="9.6" fill="#231f20" stroke="#231f20" stroke-width="0.12">10<tspan dx="1.9" dy="-2.6" font-size="6.8" stroke-width="0.35">1</tspan></text>
<line x1="291.80" y1="229.90" x2="291.80" y2="237.20" stroke="#231f20" stroke-width="1" />
<text transform="translate(283.70 245.60) scale(0.85 1)" font-size="9.6" fill="#231f20" stroke="#231f20" stroke-width="0.12">10<tspan dx="1.9" dy="-2.6" font-size="6.8" stroke-width="0.35">2</tspan></text>
<polyline points="226.24,229.63 227.01,229.63 227.78,229.63 228.54,229.63 229.31,229.63 230.08,229.63 230.85,229.63 231.62,229.63 232.39,229.63 233.16,229.63 233.93,229.63 234.70,229.63 235.47,229.63 236.24,229.63 237.01,229.63 237.78,229.63 238.55,229.63 239.32,229.63 240.09,229.63 240.86,229.63 241.62,229.63 242.39,229.63 243.16,229.63 243.93,229.63 244.70,229.63 245.47,229.63 246.24,229.63 247.01,229.63 247.78,229.63 248.55,229.63 249.32,229.63 250.09,229.63 250.86,229.63 251.63,229.63 252.40,229.63 253.17,229.63 253.94,229.63 254.70,229.63 255.47,229.63 256.24,229.63 257.01,229.63 257.78,229.63 258.55,229.63 259.32,229.63 260.09,229.63 260.86,229.63 261.63,229.63 262.40,229.63 263.17,229.63 263.94,229.63 264.71,229.63 265.48,229.63 266.25,229.63 267.02,229.63 267.79,229.63 268.55,229.63 269.32,229.63 270.09,229.63 270.86,229.63 271.63,229.63 272.40,229.63 273.17,229.63 273.94,229.63 274.71,229.63 275.48,229.63 276.25,229.63 277.02,229.63 277.79,229.63 278.56,229.63 279.33,229.63 280.10,229.63 280.87,229.63 281.63,229.63 282.40,229.63 283.17,229.63 283.94,229.63 284.71,229.63 285.48,229.63 286.25,229.63 287.02,229.63 287.79,229.63" fill="none" stroke="#ff1f1f" stroke-width="1.5" stroke-linejoin="round" stroke-linecap="round"/>
<polyline points="226.24,196.19 227.01,194.23 227.78,192.28 228.54,190.37 229.31,188.50 230.08,186.68 230.85,184.93 231.62,183.25 232.39,181.65 233.16,180.13 233.93,178.69 234.70,177.35 235.47,176.10 236.24,174.93 237.01,173.86 237.78,172.86 238.55,171.95 239.32,171.12 240.09,170.35 240.86,169.66 241.62,169.03 242.39,168.46 243.16,167.94 243.93,167.47 244.70,167.05 245.47,166.68 246.24,166.34 247.01,166.03 247.78,165.76 248.55,165.51 249.32,165.30 250.09,165.10 250.86,164.93 251.63,164.77 252.40,164.63 253.17,164.51 253.94,164.39 254.70,164.30 255.47,164.21 256.24,164.13 257.01,164.06 257.78,164.00 258.55,163.94 259.32,163.89 260.09,163.85 260.86,163.81 261.63,163.78 262.40,163.75 263.17,163.72 263.94,163.69 264.71,163.67 265.48,163.65 266.25,163.64 267.02,163.62 267.79,163.61 268.55,163.60 269.32,163.58 270.09,163.58 270.86,163.57 271.63,163.56 272.40,163.55 273.17,163.55 273.94,163.54 274.71,163.54 275.48,163.53 276.25,163.53 277.02,163.53 277.79,163.52 278.56,163.52 279.33,163.52 280.10,163.52 280.87,163.51 281.63,163.51 282.40,163.51 283.17,163.51 283.94,163.51 284.71,163.51 285.48,163.51 286.25,163.51 287.02,163.51 287.79,163.50" fill="none" stroke="#000" stroke-width="1.1" stroke-linejoin="round" stroke-linecap="round"/>
<line x1="320.50" y1="163.00" x2="320.50" y2="230.40" stroke="#231f20" stroke-width="1" />
<line x1="313.20" y1="229.90" x2="320.50" y2="229.90" stroke="#231f20" stroke-width="1" />
<text x="311.90" y="232.15" font-size="8.1" text-anchor="end" font-weight="normal" fill="#231f20" stroke="#231f20" stroke-width="0.15" >0</text>
<line x1="313.20" y1="213.30" x2="320.50" y2="213.30" stroke="#231f20" stroke-width="1" />
<text x="311.90" y="215.55" font-size="8.1" text-anchor="end" font-weight="normal" fill="#231f20" stroke="#231f20" stroke-width="0.15" >25</text>
<line x1="313.20" y1="196.70" x2="320.50" y2="196.70" stroke="#231f20" stroke-width="1" />
<text x="311.90" y="198.95" font-size="8.1" text-anchor="end" font-weight="normal" fill="#231f20" stroke="#231f20" stroke-width="0.15" >50</text>
<line x1="313.20" y1="180.10" x2="320.50" y2="180.10" stroke="#231f20" stroke-width="1" />
<text x="311.90" y="182.35" font-size="8.1" text-anchor="end" font-weight="normal" fill="#231f20" stroke="#231f20" stroke-width="0.15" >75</text>
<line x1="313.20" y1="163.50" x2="320.50" y2="163.50" stroke="#231f20" stroke-width="1" />
<text x="311.90" y="165.75" font-size="8.1" text-anchor="end" font-weight="normal" fill="#231f20" stroke="#231f20" stroke-width="0.15" >100</text>
<line x1="320.50" y1="229.90" x2="387.50" y2="229.90" stroke="#231f20" stroke-width="1" />
<line x1="326.85" y1="229.90" x2="326.85" y2="237.20" stroke="#231f20" stroke-width="1" />
<text transform="translate(318.75 245.60) scale(0.85 1)" font-size="9.6" fill="#231f20" stroke="#231f20" stroke-width="0.12">10<tspan dx="1.9" dy="-2.6" font-size="6.8" stroke-width="0.35">-1</tspan></text>
<line x1="346.90" y1="229.90" x2="346.90" y2="237.20" stroke="#231f20" stroke-width="1" />
<text transform="translate(338.80 245.60) scale(0.85 1)" font-size="9.6" fill="#231f20" stroke="#231f20" stroke-width="0.12">10<tspan dx="1.9" dy="-2.6" font-size="6.8" stroke-width="0.35">0</tspan></text>
<line x1="366.95" y1="229.90" x2="366.95" y2="237.20" stroke="#231f20" stroke-width="1" />
<text transform="translate(358.85 245.60) scale(0.85 1)" font-size="9.6" fill="#231f20" stroke="#231f20" stroke-width="0.12">10<tspan dx="1.9" dy="-2.6" font-size="6.8" stroke-width="0.35">1</tspan></text>
<line x1="387.00" y1="229.90" x2="387.00" y2="237.20" stroke="#231f20" stroke-width="1" />
<text transform="translate(378.90 245.60) scale(0.85 1)" font-size="9.6" fill="#231f20" stroke="#231f20" stroke-width="0.12">10<tspan dx="1.9" dy="-2.6" font-size="6.8" stroke-width="0.35">2</tspan></text>
<polyline points="356.92,229.63 357.25,229.63 357.58,229.63 357.90,229.63 358.23,229.63 358.55,229.63 358.88,229.63 359.21,229.62 359.53,229.62 359.86,229.62 360.18,229.61 360.51,229.61 360.83,229.60 361.16,229.60 361.49,229.59 361.81,229.59 362.14,229.58 362.46,229.57 362.79,229.57 363.12,229.56 363.44,229.55 363.77,229.54 364.09,229.53 364.42,229.52 364.74,229.51 365.07,229.50 365.40,229.49 365.72,229.48 366.05,229.47 366.37,229.46 366.70,229.45 367.03,229.43 367.35,229.42 367.68,229.41 368.00,229.39 368.33,229.38 368.65,229.37 368.98,229.35 369.31,229.33 369.63,229.32 369.96,229.30 370.28,229.29 370.61,229.27 370.93,229.25 371.26,229.23 371.59,229.21 371.91,229.20 372.24,229.18 372.56,229.16 372.89,229.14 373.22,229.12 373.54,229.09 373.87,229.07 374.19,229.05 374.52,229.03 374.84,229.01 375.17,228.98 375.50,228.96 375.82,228.94 376.15,228.91 376.47,228.89 376.80,228.86 377.13,228.84 377.45,228.81 377.78,228.78 378.10,228.76 378.43,228.73 378.75,228.70 379.08,228.67 379.41,228.65 379.73,228.62 380.06,228.59 380.38,228.56 380.71,228.53 381.04,228.50 381.36,228.47 381.69,228.44 382.01,228.40 382.34,228.37 382.66,228.34 382.99,228.31" fill="none" stroke="#ffb366" stroke-width="1.1" stroke-linejoin="round" stroke-linecap="round"/>
<polyline points="321.44,229.63 322.21,229.63 322.98,229.63 323.74,229.63 324.51,229.63 325.28,229.63 326.05,229.63 326.82,229.63 327.59,229.63 328.36,229.63 329.13,229.63 329.90,229.63 330.67,229.63 331.44,229.63 332.21,229.63 332.98,229.63 333.75,229.63 334.52,229.63 335.29,229.63 336.06,229.63 336.82,229.63 337.59,229.63 338.36,229.63 339.13,229.63 339.90,229.63 340.67,229.63 341.44,229.63 342.21,229.63 342.98,229.63 343.75,229.63 344.52,229.63 345.29,229.63 346.06,229.63 346.83,229.63 347.60,229.63 348.37,229.63 349.14,229.63 349.90,229.63 350.67,229.63 351.44,229.63 352.21,229.63 352.98,229.63 353.75,229.63 354.52,229.63 355.29,229.63 356.06,229.63 356.83,229.63 357.60,229.63 358.37,229.63 359.14,229.63 359.91,229.63 360.68,229.63 361.45,229.63 362.22,229.63 362.99,229.63 363.75,229.63 364.52,229.63 365.29,229.63 366.06,229.63 366.83,229.63 367.60,229.63 368.37,229.63 369.14,229.63 369.91,229.63 370.68,229.63 371.45,229.63 372.22,229.63 372.99,229.63 373.76,229.63 374.53,229.63 375.30,229.63 376.07,229.63 376.83,229.63 377.60,229.63 378.37,229.63 379.14,229.63 379.91,229.63 380.68,229.63 381.45,229.63 382.22,229.63 382.99,229.63" fill="none" stroke="#ff1f1f" stroke-width="1.5" stroke-linejoin="round" stroke-linecap="round"/>
<polyline points="321.44,223.89 322.21,223.57 322.98,223.25 323.74,222.91 324.51,222.55 325.28,222.18 326.05,221.79 326.82,221.39 327.59,220.96 328.36,220.53 329.13,220.07 329.90,219.59 330.67,219.10 331.44,218.59 332.21,218.05 332.98,217.50 333.75,216.93 334.52,216.34 335.29,215.73 336.06,215.10 336.82,214.45 337.59,213.78 338.36,213.09 339.13,212.38 339.90,211.65 340.67,210.91 341.44,210.14 342.21,209.36 342.98,208.57 343.75,207.75 344.52,206.92 345.29,206.08 346.06,205.22 346.83,204.35 347.60,203.47 348.37,202.58 349.14,201.68 349.90,200.78 350.67,199.86 351.44,198.95 352.21,198.02 352.98,197.10 353.75,196.18 354.52,195.25 355.29,194.33 356.06,193.41 356.83,192.50 357.60,191.60 358.37,190.70 359.14,189.81 359.91,188.93 360.68,188.06 361.45,187.21 362.22,186.37 362.99,185.54 363.75,184.73 364.52,183.93 365.29,183.15 366.06,182.39 366.83,181.65 367.60,180.92 368.37,180.22 369.14,179.53 369.91,178.86 370.68,178.22 371.45,177.59 372.22,176.98 372.99,176.39 373.76,175.82 374.53,175.27 375.30,174.74 376.07,174.23 376.83,173.74 377.60,173.27 378.37,172.81 379.14,172.38 379.91,171.96 380.68,171.56 381.45,171.17 382.22,170.80 382.99,170.45" fill="none" stroke="#ff44dd" stroke-width="1.1" stroke-linejoin="round" stroke-linecap="round"/>
<polyline points="321.44,166.82 322.21,166.76 322.98,166.71 323.74,166.65 324.51,166.59 325.28,166.54 326.05,166.48 326.82,166.43 327.59,166.38 328.36,166.33 329.13,166.28 329.90,166.22 330.67,166.18 331.44,166.13 332.21,166.08 332.98,166.03 333.75,165.98 334.52,165.94 335.29,165.89 336.06,165.85 336.82,165.80 337.59,165.76 338.36,165.72 339.13,165.68 339.90,165.63 340.67,165.59 341.44,165.55 342.21,165.52 342.98,165.48 343.75,165.44 344.52,165.40 345.29,165.37 346.06,165.33 346.83,165.30 347.60,165.26 348.37,165.23 349.14,165.20 349.90,165.17 350.67,165.14 351.44,165.11 352.21,165.08 352.98,165.05 353.75,165.02 354.52,164.99 355.29,164.97 356.06,164.94 356.83,164.92 357.60,164.89 358.37,164.87 359.14,164.84 359.91,164.82 360.68,164.80 361.45,164.78 362.22,164.76 362.99,164.74 363.75,164.72 364.52,164.71 365.29,164.69 366.06,164.67 366.83,164.66 367.60,164.64 368.37,164.63 369.14,164.61 369.91,164.60 370.68,164.59 371.45,164.58 372.22,164.57 372.99,164.56 373.76,164.55 374.53,164.54 375.30,164.53 376.07,164.53 376.83,164.52 377.60,164.51 378.37,164.51 379.14,164.51 379.91,164.50 380.68,164.50 381.45,164.50 382.22,164.50 382.99,164.50" fill="none" stroke="#000" stroke-width="1.1" stroke-linejoin="round" stroke-linecap="round"/>
<line x1="413.55" y1="163.00" x2="413.55" y2="230.40" stroke="#231f20" stroke-width="1" />
<line x1="406.25" y1="229.90" x2="413.55" y2="229.90" stroke="#231f20" stroke-width="1" />
<text x="404.95" y="232.15" font-size="8.1" text-anchor="end" font-weight="normal" fill="#231f20" stroke="#231f20" stroke-width="0.15" >0</text>
<line x1="406.25" y1="213.30" x2="413.55" y2="213.30" stroke="#231f20" stroke-width="1" />
<text x="404.95" y="215.55" font-size="8.1" text-anchor="end" font-weight="normal" fill="#231f20" stroke="#231f20" stroke-width="0.15" >25</text>
<line x1="406.25" y1="196.70" x2="413.55" y2="196.70" stroke="#231f20" stroke-width="1" />
<text x="404.95" y="198.95" font-size="8.1" text-anchor="end" font-weight="normal" fill="#231f20" stroke="#231f20" stroke-width="0.15" >50</text>
<line x1="406.25" y1="180.10" x2="413.55" y2="180.10" stroke="#231f20" stroke-width="1" />
<text x="404.95" y="182.35" font-size="8.1" text-anchor="end" font-weight="normal" fill="#231f20" stroke="#231f20" stroke-width="0.15" >75</text>
<line x1="406.25" y1="163.50" x2="413.55" y2="163.50" stroke="#231f20" stroke-width="1" />
<text x="404.95" y="165.75" font-size="8.1" text-anchor="end" font-weight="normal" fill="#231f20" stroke="#231f20" stroke-width="0.15" >100</text>
<line x1="413.55" y1="229.90" x2="480.20" y2="229.90" stroke="#231f20" stroke-width="1" />
<line x1="419.55" y1="229.90" x2="419.55" y2="237.20" stroke="#231f20" stroke-width="1" />
<text transform="translate(411.45 245.60) scale(0.85 1)" font-size="9.6" fill="#231f20" stroke="#231f20" stroke-width="0.12">10<tspan dx="1.9" dy="-2.6" font-size="6.8" stroke-width="0.35">-1</tspan></text>
<line x1="439.60" y1="229.90" x2="439.60" y2="237.20" stroke="#231f20" stroke-width="1" />
<text transform="translate(431.50 245.60) scale(0.85 1)" font-size="9.6" fill="#231f20" stroke="#231f20" stroke-width="0.12">10<tspan dx="1.9" dy="-2.6" font-size="6.8" stroke-width="0.35">0</tspan></text>
<line x1="459.65" y1="229.90" x2="459.65" y2="237.20" stroke="#231f20" stroke-width="1" />
<text transform="translate(451.55 245.60) scale(0.85 1)" font-size="9.6" fill="#231f20" stroke="#231f20" stroke-width="0.12">10<tspan dx="1.9" dy="-2.6" font-size="6.8" stroke-width="0.35">1</tspan></text>
<line x1="479.70" y1="229.90" x2="479.70" y2="237.20" stroke="#231f20" stroke-width="1" />
<text transform="translate(471.60 245.60) scale(0.85 1)" font-size="9.6" fill="#231f20" stroke="#231f20" stroke-width="0.12">10<tspan dx="1.9" dy="-2.6" font-size="6.8" stroke-width="0.35">2</tspan></text>
<polyline points="414.14,229.63 414.91,229.63 415.68,229.63 416.44,229.63 417.21,229.63 417.98,229.63 418.75,229.63 419.52,229.63 420.29,229.63 421.06,229.63 421.83,229.63 422.60,229.63 423.37,229.63 424.14,229.63 424.91,229.63 425.68,229.63 426.45,229.63 427.22,229.63 427.99,229.63 428.76,229.63 429.52,229.63 430.29,229.63 431.06,229.63 431.83,229.63 432.60,229.63 433.37,229.63 434.14,229.63 434.91,229.63 435.68,229.63 436.45,229.63 437.22,229.63 437.99,229.63 438.76,229.63 439.53,229.63 440.30,229.63 441.07,229.63 441.84,229.63 442.60,229.63 443.37,229.63 444.14,229.63 444.91,229.63 445.68,229.63 446.45,229.63 447.22,229.63 447.99,229.63 448.76,229.63 449.53,229.63 450.30,229.63 451.07,229.63 451.84,229.63 452.61,229.63 453.38,229.63 454.15,229.63 454.92,229.63 455.69,229.63 456.45,229.63 457.22,229.63 457.99,229.63 458.76,229.63 459.53,229.63 460.30,229.63 461.07,229.63 461.84,229.63 462.61,229.63 463.38,229.63 464.15,229.63 464.92,229.63 465.69,229.63 466.46,229.63 467.23,229.63 468.00,229.63 468.77,229.63 469.53,229.63 470.30,229.63 471.07,229.63 471.84,229.63 472.61,229.63 473.38,229.63 474.15,229.63 474.92,229.63 475.69,229.63" fill="none" stroke="#ff1f1f" stroke-width="1.5" stroke-linejoin="round" stroke-linecap="round"/>
<polyline points="414.14,215.66 414.91,214.44 415.68,213.15 416.44,211.79 417.21,210.36 417.98,208.86 418.75,207.31 419.52,205.71 420.29,204.05 421.06,202.36 421.83,200.64 422.60,198.89 423.37,197.14 424.14,195.38 424.91,193.62 425.68,191.89 426.45,190.18 427.22,188.51 427.99,186.88 428.76,185.30 429.52,183.77 430.29,182.31 431.06,180.92 431.83,179.59 432.60,178.33 433.37,177.15 434.14,176.03 434.91,174.99 435.68,174.02 436.45,173.11 437.22,172.27 437.99,171.50 438.76,170.78 439.53,170.12 440.30,169.51 441.07,168.96 441.84,168.45 442.60,167.99 443.37,167.56 444.14,167.18 444.91,166.83 445.68,166.51 446.45,166.22 447.22,165.95 447.99,165.71 448.76,165.50 449.53,165.30 450.30,165.13 451.07,164.97 451.84,164.82 452.61,164.69 453.38,164.57 454.15,164.47 454.92,164.37 455.69,164.28 456.45,164.21 457.22,164.14 457.99,164.07 458.76,164.02 459.53,163.96 460.30,163.92 461.07,163.88 461.84,163.84 462.61,163.80 463.38,163.77 464.15,163.75 464.92,163.72 465.69,163.70 466.46,163.68 467.23,163.66 468.00,163.65 468.77,163.63 469.53,163.62 470.30,163.61 471.07,163.60 471.84,163.59 472.61,163.58 473.38,163.57 474.15,163.56 474.92,163.56 475.69,163.55" fill="none" stroke="#000" stroke-width="1.1" stroke-linejoin="round" stroke-linecap="round"/>
<line x1="506.55" y1="163.00" x2="506.55" y2="230.40" stroke="#231f20" stroke-width="1" />
<line x1="499.25" y1="229.90" x2="506.55" y2="229.90" stroke="#231f20" stroke-width="1" />
<text x="497.95" y="232.15" font-size="8.1" text-anchor="end" font-weight="normal" fill="#231f20" stroke="#231f20" stroke-width="0.15" >0</text>
<line x1="499.25" y1="213.30" x2="506.55" y2="213.30" stroke="#231f20" stroke-width="1" />
<text x="497.95" y="215.55" font-size="8.1" text-anchor="end" font-weight="normal" fill="#231f20" stroke="#231f20" stroke-width="0.15" >25</text>
<line x1="499.25" y1="196.70" x2="506.55" y2="196.70" stroke="#231f20" stroke-width="1" />
<text x="497.95" y="198.95" font-size="8.1" text-anchor="end" font-weight="normal" fill="#231f20" stroke="#231f20" stroke-width="0.15" >50</text>
<line x1="499.25" y1="180.10" x2="506.55" y2="180.10" stroke="#231f20" stroke-width="1" />
<text x="497.95" y="182.35" font-size="8.1" text-anchor="end" font-weight="normal" fill="#231f20" stroke="#231f20" stroke-width="0.15" >75</text>
<line x1="499.25" y1="163.50" x2="506.55" y2="163.50" stroke="#231f20" stroke-width="1" />
<text x="497.95" y="165.75" font-size="8.1" text-anchor="end" font-weight="normal" fill="#231f20" stroke="#231f20" stroke-width="0.15" >100</text>
<line x1="506.55" y1="229.90" x2="573.20" y2="229.90" stroke="#231f20" stroke-width="1" />
<line x1="512.55" y1="229.90" x2="512.55" y2="237.20" stroke="#231f20" stroke-width="1" />
<text transform="translate(504.45 245.60) scale(0.85 1)" font-size="9.6" fill="#231f20" stroke="#231f20" stroke-width="0.12">10<tspan dx="1.9" dy="-2.6" font-size="6.8" stroke-width="0.35">-1</tspan></text>
<line x1="532.60" y1="229.90" x2="532.60" y2="237.20" stroke="#231f20" stroke-width="1" />
<text transform="translate(524.50 245.60) scale(0.85 1)" font-size="9.6" fill="#231f20" stroke="#231f20" stroke-width="0.12">10<tspan dx="1.9" dy="-2.6" font-size="6.8" stroke-width="0.35">0</tspan></text>
<line x1="552.65" y1="229.90" x2="552.65" y2="237.20" stroke="#231f20" stroke-width="1" />
<text transform="translate(544.55 245.60) scale(0.85 1)" font-size="9.6" fill="#231f20" stroke="#231f20" stroke-width="0.12">10<tspan dx="1.9" dy="-2.6" font-size="6.8" stroke-width="0.35">1</tspan></text>
<line x1="572.70" y1="229.90" x2="572.70" y2="237.20" stroke="#231f20" stroke-width="1" />
<text transform="translate(564.60 245.60) scale(0.85 1)" font-size="9.6" fill="#231f20" stroke="#231f20" stroke-width="0.12">10<tspan dx="1.9" dy="-2.6" font-size="6.8" stroke-width="0.35">2</tspan></text>
<polyline points="507.14,229.37 507.91,229.37 508.68,229.37 509.44,229.37 510.21,229.37 510.98,229.37 511.75,229.37 512.52,229.37 513.29,229.37 514.06,229.37 514.83,229.37 515.60,229.37 516.37,229.37 517.14,229.37 517.91,229.37 518.68,229.37 519.45,229.37 520.22,229.37 520.99,229.37 521.76,229.37 522.52,229.37 523.29,229.37 524.06,229.37 524.83,229.37 525.60,229.37 526.37,229.37 527.14,229.37 527.91,229.37 528.68,229.37 529.45,229.37 530.22,229.37 530.99,229.37 531.76,229.37 532.53,229.37 533.30,229.37 534.07,229.37 534.84,229.37 535.60,229.37 536.37,229.37 537.14,229.37 537.91,229.37 538.68,229.37 539.45,229.37 540.22,229.37 540.99,229.37 541.76,229.37 542.53,229.37 543.30,229.37 544.07,229.37 544.84,229.37 545.61,229.37 546.38,229.37 547.15,229.37 547.92,229.37 548.69,229.37 549.45,229.37 550.22,229.37 550.99,229.37 551.76,229.37 552.53,229.37 553.30,229.37 554.07,229.37 554.84,229.37 555.61,229.37 556.38,229.37 557.15,229.37 557.92,229.37 558.69,229.37 559.46,229.37 560.23,229.37 561.00,229.37 561.77,229.37 562.53,229.37 563.30,229.37 564.07,229.37 564.84,229.37 565.61,229.37 566.38,229.37 567.15,229.37 567.92,229.37 568.69,229.37" fill="none" stroke="#ffb366" stroke-width="1.1" stroke-linejoin="round" stroke-linecap="round"/>
<polyline points="507.14,229.63 507.91,229.63 508.68,229.63 509.44,229.63 510.21,229.63 510.98,229.63 511.75,229.63 512.52,229.63 513.29,229.63 514.06,229.63 514.83,229.63 515.60,229.63 516.37,229.63 517.14,229.63 517.91,229.63 518.68,229.63 519.45,229.63 520.22,229.63 520.99,229.63 521.76,229.63 522.52,229.63 523.29,229.63 524.06,229.63 524.83,229.63 525.60,229.63 526.37,229.63 527.14,229.63 527.91,229.63 528.68,229.63 529.45,229.63 530.22,229.63 530.99,229.63 531.76,229.63 532.53,229.63 533.30,229.63 534.07,229.63 534.84,229.63 535.60,229.63 536.37,229.63 537.14,229.63 537.91,229.63 538.68,229.63 539.45,229.63 540.22,229.63 540.99,229.63 541.76,229.63 542.53,229.63 543.30,229.63 544.07,229.63 544.84,229.63 545.61,229.63 546.38,229.63 547.15,229.63 547.92,229.63 548.69,229.63 549.45,229.63 550.22,229.63 550.99,229.63 551.76,229.63 552.53,229.63 553.30,229.63 554.07,229.63 554.84,229.63 555.61,229.63 556.38,229.63 557.15,229.63 557.92,229.63 558.69,229.63 559.46,229.63 560.23,229.63 561.00,229.63 561.77,229.63 562.53,229.63 563.30,229.63 564.07,229.63 564.84,229.63 565.61,229.63 566.38,229.63 567.15,229.63 567.92,229.63 568.69,229.63" fill="none" stroke="#ff1f1f" stroke-width="1.5" stroke-linejoin="round" stroke-linecap="round"/>
<polyline points="507.14,228.85 507.91,228.80 508.68,228.74 509.44,228.68 510.21,228.62 510.98,228.55 511.75,228.48 512.52,228.41 513.29,228.33 514.06,228.25 514.83,228.17 515.60,228.08 516.37,227.98 517.14,227.88 517.91,227.78 518.68,227.67 519.45,227.56 520.22,227.44 520.99,227.31 521.76,227.18 522.52,227.04 523.29,226.90 524.06,226.75 524.83,226.59 525.60,226.42 526.37,226.25 527.14,226.06 527.91,225.87 528.68,225.67 529.45,225.46 530.22,225.24 530.99,225.01 531.76,224.77 532.53,224.52 533.30,224.26 534.07,223.99 534.84,223.71 535.60,223.41 536.37,223.10 537.14,222.78 537.91,222.44 538.68,222.10 539.45,221.73 540.22,221.35 540.99,220.96 541.76,220.56 542.53,220.13 543.30,219.69 544.07,219.24 544.84,218.77 545.61,218.28 546.38,217.78 547.15,217.26 547.92,216.72 548.69,216.16 549.45,215.59 550.22,215.00 550.99,214.40 551.76,213.78 552.53,213.14 553.30,212.48 554.07,211.81 554.84,211.12 555.61,210.42 556.38,209.70 557.15,208.96 557.92,208.21 558.69,207.45 559.46,206.68 560.23,205.89 561.00,205.09 561.77,204.29 562.53,203.47 563.30,202.64 564.07,201.81 564.84,200.97 565.61,200.12 566.38,199.27 567.15,198.41 567.92,197.56 568.69,196.70" fill="none" stroke="#22bb22" stroke-width="1.1" stroke-linejoin="round" stroke-linecap="round"/>
<polyline points="507.14,222.59 507.91,222.30 508.68,222.00 509.44,221.70 510.21,221.38 510.98,221.05 511.75,220.70 512.52,220.35 513.29,219.99 514.06,219.61 514.83,219.23 515.60,218.83 516.37,218.42 517.14,218.00 517.91,217.57 518.68,217.12 519.45,216.66 520.22,216.20 520.99,215.71 521.76,215.22 522.52,214.71 523.29,214.19 524.06,213.66 524.83,213.12 525.60,212.57 526.37,212.00 527.14,211.42 527.91,210.84 528.68,210.24 529.45,209.62 530.22,209.00 530.99,208.37 531.76,207.73 532.53,207.08 533.30,206.42 534.07,205.75 534.84,205.08 535.60,204.39 536.37,203.70 537.14,203.01 537.91,202.30 538.68,201.60 539.45,200.88 540.22,200.17 540.99,199.45 541.76,198.72 542.53,198.00 543.30,197.27 544.07,196.55 544.84,195.82 545.61,195.10 546.38,194.37 547.15,193.65 547.92,192.93 548.69,192.22 549.45,191.51 550.22,190.80 550.99,190.10 551.76,189.41 552.53,188.72 553.30,188.04 554.07,187.37 554.84,186.70 555.61,186.05 556.38,185.40 557.15,184.76 557.92,184.14 558.69,183.52 559.46,182.91 560.23,182.32 561.00,181.73 561.77,181.16 562.53,180.60 563.30,180.05 564.07,179.51 564.84,178.99 565.61,178.47 566.38,177.97 567.15,177.48 567.92,177.01 568.69,176.54" fill="none" stroke="#ff44dd" stroke-width="1.1" stroke-linejoin="round" stroke-linecap="round"/>
<polyline points="507.14,196.17 507.91,196.12 508.68,196.07 509.44,196.02 510.21,195.97 510.98,195.92 511.75,195.87 512.52,195.82 513.29,195.77 514.06,195.72 514.83,195.67 515.60,195.62 516.37,195.57 517.14,195.52 517.91,195.47 518.68,195.42 519.45,195.37 520.22,195.32 520.99,195.27 521.76,195.22 522.52,195.17 523.29,195.12 524.06,195.07 524.83,195.02 525.60,194.97 526.37,194.92 527.14,194.87 527.91,194.82 528.68,194.77 529.45,194.72 530.22,194.67 530.99,194.62 531.76,194.58 532.53,194.53 533.30,194.48 534.07,194.43 534.84,194.38 535.60,194.33 536.37,194.28 537.14,194.23 537.91,194.18 538.68,194.13 539.45,194.08 540.22,194.03 540.99,193.98 541.76,193.93 542.53,193.88 543.30,193.83 544.07,193.78 544.84,193.73 545.61,193.68 546.38,193.63 547.15,193.58 547.92,193.53 548.69,193.48 549.45,193.43 550.22,193.38 550.99,193.33 551.76,193.28 552.53,193.23 553.30,193.18 554.07,193.13 554.84,193.08 555.61,193.03 556.38,192.98 557.15,192.93 557.92,192.88 558.69,192.83 559.46,192.78 560.23,192.73 561.00,192.68 561.77,192.63 562.53,192.58 563.30,192.53 564.07,192.48 564.84,192.43 565.61,192.38 566.38,192.33 567.15,192.28 567.92,192.23 568.69,192.18" fill="none" stroke="#22604a" stroke-width="1.1" stroke-linejoin="round" stroke-linecap="round"/>
<polyline points="507.14,188.53 507.91,188.49 508.68,188.45 509.44,188.42 510.21,188.38 510.98,188.34 511.75,188.30 512.52,188.26 513.29,188.22 514.06,188.18 514.83,188.14 515.60,188.10 516.37,188.06 517.14,188.03 517.91,187.99 518.68,187.95 519.45,187.91 520.22,187.87 520.99,187.83 521.76,187.79 522.52,187.75 523.29,187.71 524.06,187.67 524.83,187.64 525.60,187.60 526.37,187.56 527.14,187.52 527.91,187.48 528.68,187.44 529.45,187.40 530.22,187.36 530.99,187.32 531.76,187.28 532.53,187.25 533.30,187.21 534.07,187.17 534.84,187.13 535.60,187.09 536.37,187.05 537.14,187.01 537.91,186.97 538.68,186.93 539.45,186.89 540.22,186.86 540.99,186.82 541.76,186.78 542.53,186.74 543.30,186.70 544.07,186.66 544.84,186.62 545.61,186.58 546.38,186.54 547.15,186.50 547.92,186.47 548.69,186.43 549.45,186.39 550.22,186.35 550.99,186.31 551.76,186.27 552.53,186.23 553.30,186.19 554.07,186.15 554.84,186.11 555.61,186.08 556.38,186.04 557.15,186.00 557.92,185.96 558.69,185.92 559.46,185.88 560.23,185.84 561.00,185.80 561.77,185.76 562.53,185.72 563.30,185.69 564.07,185.65 564.84,185.61 565.61,185.57 566.38,185.53 567.15,185.49 567.92,185.45 568.69,185.41" fill="none" stroke="#2a9a70" stroke-width="1.1" stroke-linejoin="round" stroke-linecap="round"/>
<polyline points="507.14,188.96 507.91,186.37 508.68,183.91 509.44,181.60 510.21,179.47 510.98,177.51 511.75,175.74 512.52,174.14 513.29,172.72 514.06,171.46 514.83,170.35 515.60,169.38 516.37,168.54 517.14,167.80 517.91,167.17 518.68,166.63 519.45,166.16 520.22,165.76 520.99,165.42 521.76,165.13 522.52,164.88 523.29,164.67 524.06,164.49 524.83,164.34 525.60,164.21 526.37,164.10 527.14,164.01 527.91,163.93 528.68,163.86 529.45,163.81 530.22,163.76 530.99,163.72 531.76,163.69 532.53,163.66 533.30,163.63 534.07,163.61 534.84,163.59 535.60,163.58 536.37,163.57 537.14,163.56 537.91,163.55 538.68,163.54 539.45,163.53 540.22,163.53 540.99,163.52 541.76,163.52 542.53,163.52 543.30,163.51 544.07,163.51 544.84,163.51 545.61,163.51 546.38,163.51 547.15,163.51 547.92,163.51 548.69,163.50 549.45,163.50 550.22,163.50 550.99,163.50 551.76,163.50 552.53,163.50 553.30,163.50 554.07,163.50 554.84,163.50 555.61,163.50 556.38,163.50 557.15,163.50 557.92,163.50 558.69,163.50 559.46,163.50 560.23,163.50 561.00,163.50 561.77,163.50 562.53,163.50 563.30,163.50 564.07,163.50 564.84,163.50 565.61,163.50 566.38,163.50 567.15,163.50 567.92,163.50 568.69,163.50" fill="none" stroke="#000" stroke-width="1.1" stroke-linejoin="round" stroke-linecap="round"/>
<text x="6.00" y="289.50" font-size="10.5" text-anchor="start" font-weight="bold" fill="#000" stroke="#000" stroke-width="0.2" >d</text>
<text x="71.50" y="283.20" font-size="9.5" text-anchor="middle" font-weight="normal" fill="#231f20" stroke="#231f20" stroke-width="0.15" >VACV WR</text>
<text x="164.40" y="283.20" font-size="9.5" text-anchor="middle" font-weight="normal" fill="#231f20" stroke="#231f20" stroke-width="0.15" >VACV Copenhagen</text>
<text x="255.80" y="283.20" font-size="9.5" text-anchor="middle" font-weight="normal" fill="#231f20" stroke="#231f20" stroke-width="0.15" >VACV IHDJ</text>
<line x1="38.50" y1="286.40" x2="103.50" y2="286.40" stroke="#231f20" stroke-width="1.6" />
<line x1="131.20" y1="286.40" x2="196.20" y2="286.40" stroke="#231f20" stroke-width="1.6" />
<line x1="223.80" y1="286.40" x2="289.20" y2="286.40" stroke="#231f20" stroke-width="1.6" />
<text x="73.00" y="297.20" font-size="9.5" text-anchor="middle" font-weight="normal" fill="#231f20" stroke="#231f20" stroke-width="0.15" >1.5% NHS</text>
<text x="169.60" y="297.20" font-size="9.5" text-anchor="middle" font-weight="normal" fill="#231f20" stroke="#231f20" stroke-width="0.15" >1.5% NHS</text>
<text x="256.50" y="297.20" font-size="9.5" text-anchor="middle" font-weight="normal" fill="#231f20" stroke="#231f20" stroke-width="0.15" >1.5% NHS</text>
<line x1="14.80" y1="387.00" x2="14.80" y2="302.50" stroke="#231f20" stroke-width="1.1" />
<path d="M11.80,303.50 L14.80,298.50 L17.80,303.50 Z" fill="#000"/>
<line x1="14.30" y1="387.00" x2="297.00" y2="387.00" stroke="#231f20" stroke-width="1.1" />
<path d="M296.00,384.00 L301.00,387.00 L296.00,390.00 Z" fill="#000"/>
<text x="6.90" y="350.50" font-size="9.5" text-anchor="middle" font-weight="normal" fill="#231f20" stroke="#231f20" stroke-width="0.15" transform="rotate(-90 6.9 350.5)">Neutralization (%)</text>
<text x="13.00" y="397.50" font-size="9.5" text-anchor="start" font-weight="normal" fill="#231f20" stroke="#231f20" stroke-width="0.15" >mAb concentration (µg/mL)</text>
<line x1="39.85" y1="301.70" x2="39.85" y2="369.00" stroke="#231f20" stroke-width="1" />
<line x1="32.55" y1="368.50" x2="39.85" y2="368.50" stroke="#231f20" stroke-width="1" />
<text x="31.25" y="370.70" font-size="8.8" text-anchor="end" font-weight="normal" fill="#231f20" stroke="#231f20" stroke-width="0.15" >0</text>
<line x1="32.55" y1="351.93" x2="39.85" y2="351.93" stroke="#231f20" stroke-width="1" />
<text x="31.25" y="354.12" font-size="8.8" text-anchor="end" font-weight="normal" fill="#231f20" stroke="#231f20" stroke-width="0.15" >25</text>
<line x1="32.55" y1="335.35" x2="39.85" y2="335.35" stroke="#231f20" stroke-width="1" />
<text x="31.25" y="337.55" font-size="8.8" text-anchor="end" font-weight="normal" fill="#231f20" stroke="#231f20" stroke-width="0.15" >50</text>
<line x1="32.55" y1="318.77" x2="39.85" y2="318.77" stroke="#231f20" stroke-width="1" />
<text x="31.25" y="320.97" font-size="8.8" text-anchor="end" font-weight="normal" fill="#231f20" stroke="#231f20" stroke-width="0.15" >75</text>
<line x1="32.55" y1="302.20" x2="39.85" y2="302.20" stroke="#231f20" stroke-width="1" />
<text x="31.25" y="304.40" font-size="8.8" text-anchor="end" font-weight="normal" fill="#231f20" stroke="#231f20" stroke-width="0.15" >100</text>
<line x1="39.85" y1="368.50" x2="107.16" y2="368.50" stroke="#231f20" stroke-width="1" />
<line x1="49.78" y1="368.50" x2="49.78" y2="375.80" stroke="#231f20" stroke-width="1" />
<text transform="translate(42.18 384.20) scale(0.85 1)" font-size="9.6" fill="#231f20" stroke="#231f20" stroke-width="0.12">10<tspan dx="1.9" dy="-2.6" font-size="6.8" stroke-width="0.35">-4</tspan></text>
<line x1="68.74" y1="368.50" x2="68.74" y2="375.80" stroke="#231f20" stroke-width="1" />
<text transform="translate(61.14 384.20) scale(0.85 1)" font-size="9.6" fill="#231f20" stroke="#231f20" stroke-width="0.12">10<tspan dx="1.9" dy="-2.6" font-size="6.8" stroke-width="0.35">-2</tspan></text>
<line x1="87.70" y1="368.50" x2="87.70" y2="375.80" stroke="#231f20" stroke-width="1" />
<text transform="translate(80.10 384.20) scale(0.85 1)" font-size="9.6" fill="#231f20" stroke="#231f20" stroke-width="0.12">10<tspan dx="1.9" dy="-2.6" font-size="6.8" stroke-width="0.35">0</tspan></text>
<line x1="106.66" y1="368.50" x2="106.66" y2="375.80" stroke="#231f20" stroke-width="1" />
<text transform="translate(99.06 384.20) scale(0.85 1)" font-size="9.6" fill="#231f20" stroke="#231f20" stroke-width="0.12">10<tspan dx="1.9" dy="-2.6" font-size="6.8" stroke-width="0.35">2</tspan></text>
<line x1="39.85" y1="335.35" x2="107.50" y2="335.35" stroke="#231f20" stroke-width="1.0" stroke-dasharray="2.6,1.9"/>
<polyline points="40.77,368.49 41.57,368.49 42.37,368.49 43.16,368.49 43.96,368.49 44.76,368.48 45.55,368.48 46.35,368.48 47.14,368.47 47.94,368.47 48.74,368.46 49.53,368.46 50.33,368.45 51.13,368.44 51.92,368.43 52.72,368.42 53.52,368.41 54.31,368.39 55.11,368.38 55.90,368.36 56.70,368.33 57.50,368.31 58.29,368.27 59.09,368.24 59.89,368.20 60.68,368.15 61.48,368.09 62.27,368.02 63.07,367.94 63.87,367.86 64.66,367.75 65.46,367.63 66.26,367.49 67.05,367.33 67.85,367.14 68.65,366.93 69.44,366.68 70.24,366.39 71.03,366.06 71.83,365.68 72.63,365.24 73.42,364.74 74.22,364.17 75.02,363.52 75.81,362.78 76.61,361.94 77.40,360.99 78.20,359.93 79.00,358.74 79.79,357.41 80.59,355.95 81.39,354.34 82.18,352.59 82.98,350.70 83.78,348.67 84.57,346.51 85.37,344.24 86.16,341.87 86.96,339.44 87.76,336.96 88.55,334.46 89.35,331.97 90.15,329.52 90.94,327.13 91.74,324.83 92.53,322.64 93.33,320.57 94.13,318.63 94.92,316.84 95.72,315.19 96.52,313.69 97.31,312.33 98.11,311.10 98.91,310.00 99.70,309.02 100.50,308.15 101.29,307.38 102.09,306.71 102.89,306.11 103.68,305.59 104.48,305.14" fill="none" stroke="#ff44dd" stroke-width="1.1" stroke-linejoin="round" stroke-linecap="round"/>
<polyline points="40.77,368.50 41.57,368.50 42.37,368.50 43.16,368.50 43.96,368.50 44.76,368.50 45.55,368.50 46.35,368.49 47.14,368.49 47.94,368.49 48.74,368.49 49.53,368.49 50.33,368.48 51.13,368.48 51.92,368.47 52.72,368.46 53.52,368.45 54.31,368.43 55.11,368.41 55.90,368.39 56.70,368.36 57.50,368.32 58.29,368.27 59.09,368.20 59.89,368.12 60.68,368.01 61.48,367.87 62.27,367.70 63.07,367.47 63.87,367.19 64.66,366.83 65.46,366.37 66.26,365.79 67.05,365.06 67.85,364.15 68.65,363.02 69.44,361.62 70.24,359.93 71.03,357.89 71.83,355.47 72.63,352.66 73.42,349.46 74.22,345.90 75.02,342.05 75.81,338.00 76.61,333.87 77.40,329.79 78.20,325.87 79.00,322.22 79.79,318.92 80.59,315.99 81.39,313.47 82.18,311.32 82.98,309.53 83.78,308.05 84.57,306.85 85.37,305.88 86.16,305.10 86.96,304.49 87.76,303.99 88.55,303.61 89.35,303.30 90.15,303.06 90.94,302.87 91.74,302.73 92.53,302.61 93.33,302.52 94.13,302.45 94.92,302.39 95.72,302.35 96.52,302.32 97.31,302.29 98.11,302.27 98.91,302.26 99.70,302.24 100.50,302.23 101.29,302.23 102.09,302.22 102.89,302.22 103.68,302.21 104.48,302.21" fill="none" stroke="#2a9a70" stroke-width="1.1" stroke-linejoin="round" stroke-linecap="round"/>
<polyline points="40.77,368.50 41.57,368.50 42.37,368.50 43.16,368.50 43.96,368.50 44.76,368.50 45.55,368.50 46.35,368.50 47.14,368.50 47.94,368.50 48.74,368.50 49.53,368.50 50.33,368.50 51.13,368.50 51.92,368.50 52.72,368.50 53.52,368.49 54.31,368.49 55.11,368.48 55.90,368.47 56.70,368.46 57.50,368.44 58.29,368.40 59.09,368.35 59.89,368.27 60.68,368.14 61.48,367.94 62.27,367.64 63.07,367.17 63.87,366.47 64.66,365.41 65.46,363.83 66.26,361.55 67.05,358.32 67.85,353.96 68.65,348.40 69.44,341.82 70.24,334.66 71.03,327.56 71.83,321.15 72.63,315.82 73.42,311.68 74.22,308.65 75.02,306.52 75.81,305.05 76.61,304.07 77.40,303.42 78.20,302.99 79.00,302.71 79.79,302.53 80.59,302.42 81.39,302.34 82.18,302.29 82.98,302.26 83.78,302.24 84.57,302.22 85.37,302.22 86.16,302.21 86.96,302.21 87.76,302.20 88.55,302.20 89.35,302.20 90.15,302.20 90.94,302.20 91.74,302.20 92.53,302.20 93.33,302.20 94.13,302.20 94.92,302.20 95.72,302.20 96.52,302.20 97.31,302.20 98.11,302.20 98.91,302.20 99.70,302.20 100.50,302.20 101.29,302.20 102.09,302.20 102.89,302.20 103.68,302.20 104.48,302.20" fill="none" stroke="#000" stroke-width="1.1" stroke-linejoin="round" stroke-linecap="round"/>
<line x1="132.75" y1="301.70" x2="132.75" y2="369.00" stroke="#231f20" stroke-width="1" />
<line x1="125.45" y1="368.50" x2="132.75" y2="368.50" stroke="#231f20" stroke-width="1" />
<text x="124.15" y="370.70" font-size="8.8" text-anchor="end" font-weight="normal" fill="#231f20" stroke="#231f20" stroke-width="0.15" >0</text>
<line x1="125.45" y1="351.93" x2="132.75" y2="351.93" stroke="#231f20" stroke-width="1" />
<text x="124.15" y="354.12" font-size="8.8" text-anchor="end" font-weight="normal" fill="#231f20" stroke="#231f20" stroke-width="0.15" >25</text>
<line x1="125.45" y1="335.35" x2="132.75" y2="335.35" stroke="#231f20" stroke-width="1" />
<text x="124.15" y="337.55" font-size="8.8" text-anchor="end" font-weight="normal" fill="#231f20" stroke="#231f20" stroke-width="0.15" >50</text>
<line x1="125.45" y1="318.77" x2="132.75" y2="318.77" stroke="#231f20" stroke-width="1" />
<text x="124.15" y="320.97" font-size="8.8" text-anchor="end" font-weight="normal" fill="#231f20" stroke="#231f20" stroke-width="0.15" >75</text>
<line x1="125.45" y1="302.20" x2="132.75" y2="302.20" stroke="#231f20" stroke-width="1" />
<text x="124.15" y="304.40" font-size="8.8" text-anchor="end" font-weight="normal" fill="#231f20" stroke="#231f20" stroke-width="0.15" >100</text>
<line x1="132.75" y1="368.50" x2="199.76" y2="368.50" stroke="#231f20" stroke-width="1" />
<line x1="142.38" y1="368.50" x2="142.38" y2="375.80" stroke="#231f20" stroke-width="1" />
<text transform="translate(134.78 384.20) scale(0.85 1)" font-size="9.6" fill="#231f20" stroke="#231f20" stroke-width="0.12">10<tspan dx="1.9" dy="-2.6" font-size="6.8" stroke-width="0.35">-4</tspan></text>
<line x1="161.34" y1="368.50" x2="161.34" y2="375.80" stroke="#231f20" stroke-width="1" />
<text transform="translate(153.74 384.20) scale(0.85 1)" font-size="9.6" fill="#231f20" stroke="#231f20" stroke-width="0.12">10<tspan dx="1.9" dy="-2.6" font-size="6.8" stroke-width="0.35">-2</tspan></text>
<line x1="180.30" y1="368.50" x2="180.30" y2="375.80" stroke="#231f20" stroke-width="1" />
<text transform="translate(172.70 384.20) scale(0.85 1)" font-size="9.6" fill="#231f20" stroke="#231f20" stroke-width="0.12">10<tspan dx="1.9" dy="-2.6" font-size="6.8" stroke-width="0.35">0</tspan></text>
<line x1="199.26" y1="368.50" x2="199.26" y2="375.80" stroke="#231f20" stroke-width="1" />
<text transform="translate(191.66 384.20) scale(0.85 1)" font-size="9.6" fill="#231f20" stroke="#231f20" stroke-width="0.12">10<tspan dx="1.9" dy="-2.6" font-size="6.8" stroke-width="0.35">2</tspan></text>
<line x1="132.75" y1="335.35" x2="200.00" y2="335.35" stroke="#231f20" stroke-width="1.0" stroke-dasharray="2.6,1.9"/>
<polyline points="133.37,368.50 134.17,368.50 134.97,368.50 135.76,368.50 136.56,368.50 137.36,368.50 138.15,368.50 138.95,368.50 139.74,368.50 140.54,368.50 141.34,368.50 142.13,368.50 142.93,368.50 143.73,368.50 144.52,368.50 145.32,368.50 146.12,368.50 146.91,368.50 147.71,368.50 148.50,368.50 149.30,368.50 150.10,368.49 150.89,368.49 151.69,368.49 152.49,368.49 153.28,368.49 154.08,368.49 154.87,368.48 155.67,368.48 156.47,368.47 157.26,368.47 158.06,368.46 158.86,368.45 159.65,368.44 160.45,368.43 161.25,368.42 162.04,368.40 162.84,368.38 163.63,368.35 164.43,368.32 165.23,368.29 166.02,368.24 166.82,368.19 167.62,368.12 168.41,368.04 169.21,367.94 170.00,367.82 170.80,367.68 171.60,367.51 172.39,367.30 173.19,367.05 173.99,366.75 174.78,366.38 175.58,365.95 176.38,365.43 177.17,364.81 177.97,364.08 178.76,363.21 179.56,362.19 180.36,361.00 181.15,359.61 181.95,358.01 182.75,356.19 183.54,354.13 184.34,351.84 185.13,349.31 185.93,346.57 186.73,343.64 187.52,340.57 188.32,337.41 189.12,334.21 189.91,331.02 190.71,327.92 191.51,324.95 192.30,322.15 193.10,319.56 193.89,317.20 194.69,315.07 195.49,313.19 196.28,311.53 197.08,310.08" fill="none" stroke="#ff44dd" stroke-width="1.1" stroke-linejoin="round" stroke-linecap="round"/>
<polyline points="133.37,368.50 134.17,368.50 134.97,368.50 135.76,368.50 136.56,368.50 137.36,368.50 138.15,368.50 138.95,368.50 139.74,368.50 140.54,368.50 141.34,368.50 142.13,368.50 142.93,368.50 143.73,368.50 144.52,368.50 145.32,368.50 146.12,368.50 146.91,368.50 147.71,368.50 148.50,368.49 149.30,368.49 150.10,368.48 150.89,368.47 151.69,368.46 152.49,368.44 153.28,368.40 154.08,368.34 154.87,368.25 155.67,368.11 156.47,367.89 157.26,367.54 158.06,367.00 158.86,366.17 159.65,364.90 160.45,363.00 161.25,360.23 162.04,356.34 162.84,351.17 163.63,344.77 164.43,337.50 165.23,330.02 166.02,323.05 166.82,317.15 167.62,312.54 168.41,309.16 169.21,306.80 170.00,305.19 170.80,304.13 171.60,303.44 172.39,302.99 173.19,302.70 173.99,302.52 174.78,302.40 175.58,302.33 176.38,302.28 177.17,302.25 177.97,302.23 178.76,302.22 179.56,302.21 180.36,302.21 181.15,302.21 181.95,302.20 182.75,302.20 183.54,302.20 184.34,302.20 185.13,302.20 185.93,302.20 186.73,302.20 187.52,302.20 188.32,302.20 189.12,302.20 189.91,302.20 190.71,302.20 191.51,302.20 192.30,302.20 193.10,302.20 193.89,302.20 194.69,302.20 195.49,302.20 196.28,302.20 197.08,302.20" fill="none" stroke="#000" stroke-width="1.1" stroke-linejoin="round" stroke-linecap="round"/>
<line x1="225.75" y1="301.70" x2="225.75" y2="369.00" stroke="#231f20" stroke-width="1" />
<line x1="218.45" y1="368.50" x2="225.75" y2="368.50" stroke="#231f20" stroke-width="1" />
<text x="217.15" y="370.70" font-size="8.8" text-anchor="end" font-weight="normal" fill="#231f20" stroke="#231f20" stroke-width="0.15" >0</text>
<line x1="218.45" y1="351.93" x2="225.75" y2="351.93" stroke="#231f20" stroke-width="1" />
<text x="217.15" y="354.12" font-size="8.8" text-anchor="end" font-weight="normal" fill="#231f20" stroke="#231f20" stroke-width="0.15" >25</text>
<line x1="218.45" y1="335.35" x2="225.75" y2="335.35" stroke="#231f20" stroke-width="1" />
<text x="217.15" y="337.55" font-size="8.8" text-anchor="end" font-weight="normal" fill="#231f20" stroke="#231f20" stroke-width="0.15" >50</text>
<line x1="218.45" y1="318.77" x2="225.75" y2="318.77" stroke="#231f20" stroke-width="1" />
<text x="217.15" y="320.97" font-size="8.8" text-anchor="end" font-weight="normal" fill="#231f20" stroke="#231f20" stroke-width="0.15" >75</text>
<line x1="218.45" y1="302.20" x2="225.75" y2="302.20" stroke="#231f20" stroke-width="1" />
<text x="217.15" y="304.40" font-size="8.8" text-anchor="end" font-weight="normal" fill="#231f20" stroke="#231f20" stroke-width="0.15" >100</text>
<line x1="225.75" y1="368.50" x2="292.76" y2="368.50" stroke="#231f20" stroke-width="1" />
<line x1="235.38" y1="368.50" x2="235.38" y2="375.80" stroke="#231f20" stroke-width="1" />
<text transform="translate(227.78 384.20) scale(0.85 1)" font-size="9.6" fill="#231f20" stroke="#231f20" stroke-width="0.12">10<tspan dx="1.9" dy="-2.6" font-size="6.8" stroke-width="0.35">-4</tspan></text>
<line x1="254.34" y1="368.50" x2="254.34" y2="375.80" stroke="#231f20" stroke-width="1" />
<text transform="translate(246.74 384.20) scale(0.85 1)" font-size="9.6" fill="#231f20" stroke="#231f20" stroke-width="0.12">10<tspan dx="1.9" dy="-2.6" font-size="6.8" stroke-width="0.35">-2</tspan></text>
<line x1="273.30" y1="368.50" x2="273.30" y2="375.80" stroke="#231f20" stroke-width="1" />
<text transform="translate(265.70 384.20) scale(0.85 1)" font-size="9.6" fill="#231f20" stroke="#231f20" stroke-width="0.12">10<tspan dx="1.9" dy="-2.6" font-size="6.8" stroke-width="0.35">0</tspan></text>
<line x1="292.26" y1="368.50" x2="292.26" y2="375.80" stroke="#231f20" stroke-width="1" />
<text transform="translate(284.66 384.20) scale(0.85 1)" font-size="9.6" fill="#231f20" stroke="#231f20" stroke-width="0.12">10<tspan dx="1.9" dy="-2.6" font-size="6.8" stroke-width="0.35">2</tspan></text>
<line x1="225.75" y1="335.35" x2="292.50" y2="335.35" stroke="#231f20" stroke-width="1.0" stroke-dasharray="2.6,1.9"/>
<polyline points="226.37,368.50 227.17,368.50 227.97,368.50 228.76,368.50 229.56,368.50 230.36,368.50 231.15,368.50 231.95,368.50 232.74,368.50 233.54,368.50 234.34,368.50 235.13,368.50 235.93,368.50 236.73,368.50 237.52,368.50 238.32,368.50 239.12,368.50 239.91,368.50 240.71,368.50 241.50,368.50 242.30,368.50 243.10,368.50 243.89,368.50 244.69,368.50 245.49,368.50 246.28,368.50 247.08,368.50 247.87,368.50 248.67,368.50 249.47,368.50 250.26,368.49 251.06,368.49 251.86,368.49 252.65,368.49 253.45,368.49 254.25,368.49 255.04,368.48 255.84,368.48 256.63,368.48 257.43,368.47 258.23,368.47 259.02,368.46 259.82,368.45 260.62,368.44 261.41,368.43 262.21,368.41 263.00,368.39 263.80,368.37 264.60,368.35 265.39,368.32 266.19,368.28 266.99,368.24 267.78,368.18 268.58,368.12 269.38,368.04 270.17,367.95 270.97,367.84 271.76,367.71 272.56,367.56 273.36,367.37 274.15,367.15 274.95,366.88 275.75,366.56 276.54,366.19 277.34,365.74 278.13,365.21 278.93,364.59 279.73,363.85 280.52,362.99 281.32,361.99 282.12,360.83 282.91,359.50 283.71,357.97 284.51,356.24 285.30,354.29 286.10,352.14 286.89,349.77 287.69,347.20 288.49,344.46 289.28,341.58 290.08,338.60" fill="none" stroke="#22bb22" stroke-width="1.1" stroke-linejoin="round" stroke-linecap="round"/>
<polyline points="226.37,368.50 227.17,368.50 227.97,368.50 228.76,368.50 229.56,368.50 230.36,368.50 231.15,368.50 231.95,368.50 232.74,368.50 233.54,368.50 234.34,368.50 235.13,368.50 235.93,368.50 236.73,368.50 237.52,368.50 238.32,368.50 239.12,368.49 239.91,368.49 240.71,368.49 241.50,368.49 242.30,368.49 243.10,368.49 243.89,368.49 244.69,368.48 245.49,368.48 246.28,368.48 247.08,368.47 247.87,368.47 248.67,368.46 249.47,368.45 250.26,368.45 251.06,368.44 251.86,368.42 252.65,368.41 253.45,368.40 254.25,368.38 255.04,368.35 255.84,368.33 256.63,368.30 257.43,368.26 258.23,368.22 259.02,368.17 259.82,368.11 260.62,368.04 261.41,367.96 262.21,367.86 263.00,367.75 263.80,367.62 264.60,367.47 265.39,367.28 266.19,367.07 266.99,366.82 267.78,366.53 268.58,366.19 269.38,365.80 270.17,365.34 270.97,364.81 271.76,364.19 272.56,363.48 273.36,362.66 274.15,361.72 274.95,360.65 275.75,359.44 276.54,358.08 277.34,356.55 278.13,354.86 278.93,352.99 279.73,350.95 280.52,348.75 281.32,346.40 282.12,343.91 282.91,341.32 283.71,338.65 284.51,335.93 285.30,333.21 286.10,330.52 286.89,327.89 287.69,325.35 288.49,322.94 289.28,320.67 290.08,318.56" fill="none" stroke="#ff44dd" stroke-width="1.1" stroke-linejoin="round" stroke-linecap="round"/>
<polyline points="226.37,365.29 227.17,365.15 227.97,364.99 228.76,364.83 229.56,364.66 230.36,364.48 231.15,364.30 231.95,364.11 232.74,363.91 233.54,363.70 234.34,363.49 235.13,363.26 235.93,363.03 236.73,362.78 237.52,362.53 238.32,362.27 239.12,361.99 239.91,361.71 240.71,361.41 241.50,361.11 242.30,360.79 243.10,360.46 243.89,360.12 244.69,359.76 245.49,359.39 246.28,359.01 247.08,358.62 247.87,358.21 248.67,357.79 249.47,357.36 250.26,356.91 251.06,356.45 251.86,355.97 252.65,355.48 253.45,354.98 254.25,354.46 255.04,353.92 255.84,353.38 256.63,352.81 257.43,352.24 258.23,351.65 259.02,351.04 259.82,350.42 260.62,349.79 261.41,349.14 262.21,348.48 263.00,347.81 263.80,347.13 264.60,346.44 265.39,345.73 266.19,345.01 266.99,344.29 267.78,343.55 268.58,342.81 269.38,342.05 270.17,341.29 270.97,340.53 271.76,339.76 272.56,338.98 273.36,338.20 274.15,337.41 274.95,336.63 275.75,335.84 276.54,335.05 277.34,334.26 278.13,333.47 278.93,332.69 279.73,331.91 280.52,331.13 281.32,330.36 282.12,329.59 282.91,328.83 283.71,328.07 284.51,327.33 285.30,326.59 286.10,325.86 286.89,325.14 287.69,324.43 288.49,323.73 289.28,323.05 290.08,322.37" fill="none" stroke="#22604a" stroke-width="1.1" stroke-linejoin="round" stroke-linecap="round"/>
<polyline points="226.37,367.14 227.17,367.04 227.97,366.92 228.76,366.80 229.56,366.66 230.36,366.52 231.15,366.37 231.95,366.20 232.74,366.02 233.54,365.83 234.34,365.63 235.13,365.41 235.93,365.17 236.73,364.92 237.52,364.65 238.32,364.36 239.12,364.04 239.91,363.71 240.71,363.36 241.50,362.98 242.30,362.57 243.10,362.14 243.89,361.68 244.69,361.20 245.49,360.68 246.28,360.13 247.08,359.54 247.87,358.93 248.67,358.28 249.47,357.59 250.26,356.87 251.06,356.11 251.86,355.31 252.65,354.47 253.45,353.60 254.25,352.68 255.04,351.73 255.84,350.74 256.63,349.72 257.43,348.66 258.23,347.57 259.02,346.45 259.82,345.29 260.62,344.11 261.41,342.91 262.21,341.68 263.00,340.44 263.80,339.18 264.60,337.91 265.39,336.63 266.19,335.35 266.99,334.07 267.78,332.79 268.58,331.52 269.38,330.26 270.17,329.02 270.97,327.79 271.76,326.59 272.56,325.41 273.36,324.25 274.15,323.13 274.95,322.04 275.75,320.98 276.54,319.96 277.34,318.97 278.13,318.02 278.93,317.10 279.73,316.23 280.52,315.39 281.32,314.59 282.12,313.83 282.91,313.11 283.71,312.42 284.51,311.77 285.30,311.16 286.10,310.57 286.89,310.02 287.69,309.50 288.49,309.02 289.28,308.56 290.08,308.13" fill="none" stroke="#2a9a70" stroke-width="1.1" stroke-linejoin="round" stroke-linecap="round"/>
<polyline points="226.37,368.50 227.17,368.50 227.97,368.50 228.76,368.50 229.56,368.50 230.36,368.50 231.15,368.50 231.95,368.50 232.74,368.50 233.54,368.50 234.34,368.50 235.13,368.50 235.93,368.50 236.73,368.50 237.52,368.50 238.32,368.50 239.12,368.50 239.91,368.49 240.71,368.49 241.50,368.49 242.30,368.48 243.10,368.47 243.89,368.46 244.69,368.44 245.49,368.42 246.28,368.38 247.08,368.33 247.87,368.25 248.67,368.13 249.47,367.96 250.26,367.71 251.06,367.36 251.86,366.84 252.65,366.11 253.45,365.06 254.25,363.60 255.04,361.57 255.84,358.84 256.63,355.28 257.43,350.81 258.23,345.49 259.02,339.52 259.82,333.26 260.62,327.15 261.41,321.58 262.21,316.81 263.00,312.95 263.80,309.95 264.60,307.71 265.39,306.07 266.19,304.90 266.99,304.07 267.78,303.49 268.58,303.09 269.38,302.81 270.17,302.62 270.97,302.49 271.76,302.40 272.56,302.34 273.36,302.29 274.15,302.26 274.95,302.24 275.75,302.23 276.54,302.22 277.34,302.21 278.13,302.21 278.93,302.21 279.73,302.20 280.52,302.20 281.32,302.20 282.12,302.20 282.91,302.20 283.71,302.20 284.51,302.20 285.30,302.20 286.10,302.20 286.89,302.20 287.69,302.20 288.49,302.20 289.28,302.20 290.08,302.20" fill="none" stroke="#000" stroke-width="1.1" stroke-linejoin="round" stroke-linecap="round"/>
<text x="331.50" y="286.30" font-size="10.5" text-anchor="start" font-weight="bold" fill="#000" stroke="#000" stroke-width="0.2" >e</text>
<defs><linearGradient id="cb" x1="0" y1="1" x2="0" y2="0"><stop offset="0" stop-color="#5a1aa8"/><stop offset="0.2" stop-color="#8a3c98"/><stop offset="0.4" stop-color="#c85a60"/><stop offset="0.55" stop-color="#f07a30"/><stop offset="0.78" stop-color="#f6b420"/><stop offset="1" stop-color="#ffee00"/></linearGradient></defs>
<rect x="338.3" y="301.2" width="8.8" height="92.8" fill="url(#cb)" stroke="#000" stroke-width="1.2"/>
<text x="350.50" y="303.20" font-size="8.7" text-anchor="start" font-weight="normal" fill="#231f20" stroke="#231f20" stroke-width="0.15" >100</text>
<text x="350.50" y="396.60" font-size="8.7" text-anchor="start" font-weight="normal" fill="#231f20" stroke="#231f20" stroke-width="0.15" >0</text>
<text x="331.6" y="344" font-size="9.3" text-anchor="middle" fill="#231f20" transform="rotate(-90 331.6 344)">IC<tspan font-size="6.4" dy="2">50</tspan><tspan dy="-2"> (µg/mL)</tspan></text>
<text x="547" y="272.5" font-size="12" font-weight="bold" text-anchor="middle" fill="#231f20">IC<tspan font-size="8" dy="2.5">50</tspan><tspan dy="-2.5"> (µg/mL)</tspan></text>
<text x="442.05" y="310.39" font-size="8.5" text-anchor="middle" font-weight="bold" fill="#231f20" stroke="#231f20" stroke-width="0.2" >&gt;100</text>
<text x="493.10" y="310.39" font-size="8.5" text-anchor="middle" font-weight="bold" fill="#231f20" stroke="#231f20" stroke-width="0.2" >&gt;100</text>
<text x="543.60" y="310.39" font-size="8.5" text-anchor="middle" font-weight="bold" fill="#231f20" stroke="#231f20" stroke-width="0.2" >&gt;100</text>
<rect x="565.80" y="301.50" width="57.90" height="11.19" fill="#fff000"/>
<text x="594.75" y="310.39" font-size="8.5" text-anchor="middle" font-weight="bold" fill="#231f20" stroke="#231f20" stroke-width="0.2" >80.57</text>
<text x="654.00" y="310.39" font-size="8.5" text-anchor="middle" font-weight="bold" fill="#231f20" stroke="#231f20" stroke-width="0.2" >&gt;100</text>
<line x1="373.40" y1="307.09" x2="382.90" y2="307.09" stroke="#ffb070" stroke-width="1.1" />
<text x="417.50" y="310.09" font-size="8.2" text-anchor="end" font-weight="bold" fill="#231f20" stroke="#231f20" stroke-width="0.2" >4M1224</text>
<text x="442.05" y="321.58" font-size="8.5" text-anchor="middle" font-weight="bold" fill="#231f20" stroke="#231f20" stroke-width="0.2" >&gt;100</text>
<text x="493.10" y="321.58" font-size="8.5" text-anchor="middle" font-weight="bold" fill="#231f20" stroke="#231f20" stroke-width="0.2" >&gt;100</text>
<text x="543.60" y="321.58" font-size="8.5" text-anchor="middle" font-weight="bold" fill="#231f20" stroke="#231f20" stroke-width="0.2" >&gt;100</text>
<rect x="565.80" y="312.69" width="57.90" height="11.19" fill="#f0a030"/>
<text x="594.75" y="321.58" font-size="8.5" text-anchor="middle" font-weight="bold" fill="#231f20" stroke="#231f20" stroke-width="0.2" >29.11</text>
<text x="654.00" y="321.58" font-size="8.5" text-anchor="middle" font-weight="bold" fill="#231f20" stroke="#231f20" stroke-width="0.2" >&gt;100</text>
<line x1="373.40" y1="318.28" x2="382.90" y2="318.28" stroke="#ffb878" stroke-width="1.1" />
<text x="417.50" y="321.28" font-size="8.2" text-anchor="end" font-weight="bold" fill="#231f20" stroke="#231f20" stroke-width="0.2" >4M2131</text>
<text x="442.05" y="332.77" font-size="8.5" text-anchor="middle" font-weight="bold" fill="#231f20" stroke="#231f20" stroke-width="0.2" >&gt;100</text>
<text x="493.10" y="332.77" font-size="8.5" text-anchor="middle" font-weight="bold" fill="#231f20" stroke="#231f20" stroke-width="0.2" >&gt;100</text>
<text x="543.60" y="332.77" font-size="8.5" text-anchor="middle" font-weight="bold" fill="#231f20" stroke="#231f20" stroke-width="0.2" >&gt;100</text>
<rect x="565.80" y="323.88" width="57.90" height="11.19" fill="#f0a030"/>
<text x="594.75" y="332.77" font-size="8.5" text-anchor="middle" font-weight="bold" fill="#231f20" stroke="#231f20" stroke-width="0.2" >32.71</text>
<rect x="623.70" y="323.88" width="60.60" height="11.19" fill="#ea7a35"/>
<text x="654.00" y="332.77" font-size="8.5" text-anchor="middle" font-weight="bold" fill="#231f20" stroke="#231f20" stroke-width="0.2" >7.61</text>
<line x1="373.40" y1="329.47" x2="382.90" y2="329.47" stroke="#9040d0" stroke-width="1.1" />
<text x="417.50" y="332.47" font-size="8.2" text-anchor="end" font-weight="bold" fill="#231f20" stroke="#231f20" stroke-width="0.2" >5M1111</text>
<rect x="419.30" y="335.06" width="45.50" height="11.19" fill="#9c4a8c"/>
<text x="442.05" y="343.96" font-size="8.5" text-anchor="middle" font-weight="bold" fill="#fff" stroke="#fff" stroke-width="0.2" >1.18</text>
<rect x="464.80" y="335.06" width="56.60" height="11.19" fill="#ee8030"/>
<text x="493.10" y="343.96" font-size="8.5" text-anchor="middle" font-weight="bold" fill="#231f20" stroke="#231f20" stroke-width="0.2" >8.85</text>
<rect x="521.40" y="335.06" width="44.40" height="11.19" fill="#f09030"/>
<text x="543.60" y="343.96" font-size="8.5" text-anchor="middle" font-weight="bold" fill="#231f20" stroke="#231f20" stroke-width="0.2" >16.93</text>
<text x="594.75" y="343.96" font-size="8.5" text-anchor="middle" font-weight="bold" fill="#231f20" stroke="#231f20" stroke-width="0.2" >&gt;100</text>
<text x="654.00" y="343.96" font-size="8.5" text-anchor="middle" font-weight="bold" fill="#231f20" stroke="#231f20" stroke-width="0.2" >&gt;100</text>
<line x1="373.40" y1="340.66" x2="382.90" y2="340.66" stroke="#ff88ee" stroke-width="1.1" />
<text x="417.50" y="343.66" font-size="8.2" text-anchor="end" font-weight="bold" fill="#231f20" stroke="#231f20" stroke-width="0.2" >7M1162</text>
<rect x="419.30" y="346.25" width="45.50" height="11.19" fill="#7030a8"/>
<text x="442.05" y="355.14" font-size="8.5" text-anchor="middle" font-weight="bold" fill="#fff" stroke="#fff" stroke-width="0.2" >0.06</text>
<text x="493.10" y="355.14" font-size="8.5" text-anchor="middle" font-weight="bold" fill="#231f20" stroke="#231f20" stroke-width="0.2" >&gt;100</text>
<rect x="521.40" y="346.25" width="44.40" height="11.19" fill="#7636a6"/>
<text x="543.60" y="355.14" font-size="8.5" text-anchor="middle" font-weight="bold" fill="#fff" stroke="#fff" stroke-width="0.2" >0.16</text>
<rect x="565.80" y="346.25" width="57.90" height="11.19" fill="#6e30aa"/>
<text x="594.75" y="355.14" font-size="8.5" text-anchor="middle" font-weight="bold" fill="#fff" stroke="#fff" stroke-width="0.2" >0.01</text>
<rect x="623.70" y="346.25" width="60.60" height="11.19" fill="#e87535"/>
<text x="654.00" y="355.14" font-size="8.5" text-anchor="middle" font-weight="bold" fill="#231f20" stroke="#231f20" stroke-width="0.2" >3.81</text>
<line x1="373.40" y1="351.84" x2="382.90" y2="351.84" stroke="#30b090" stroke-width="1.1" />
<text x="417.50" y="354.84" font-size="8.2" text-anchor="end" font-weight="bold" fill="#231f20" stroke="#231f20" stroke-width="0.2" >8M2110</text>
<text x="442.05" y="366.33" font-size="8.5" text-anchor="middle" font-weight="bold" fill="#231f20" stroke="#231f20" stroke-width="0.2" >&gt;100</text>
<text x="493.10" y="366.33" font-size="8.5" text-anchor="middle" font-weight="bold" fill="#231f20" stroke="#231f20" stroke-width="0.2" >&gt;100</text>
<text x="543.60" y="366.33" font-size="8.5" text-anchor="middle" font-weight="bold" fill="#231f20" stroke="#231f20" stroke-width="0.2" >&gt;100</text>
<rect x="565.80" y="357.44" width="57.90" height="11.19" fill="#8a3c98"/>
<text x="594.75" y="366.33" font-size="8.5" text-anchor="middle" font-weight="bold" fill="#fff" stroke="#fff" stroke-width="0.2" >0.43</text>
<rect x="623.70" y="357.44" width="60.60" height="11.19" fill="#e46e38"/>
<text x="654.00" y="366.33" font-size="8.5" text-anchor="middle" font-weight="bold" fill="#231f20" stroke="#231f20" stroke-width="0.2" >3.28</text>
<line x1="373.40" y1="363.03" x2="382.90" y2="363.03" stroke="#8a8a20" stroke-width="1.1" />
<text x="417.50" y="366.03" font-size="8.2" text-anchor="end" font-weight="bold" fill="#231f20" stroke="#231f20" stroke-width="0.2" >10M1135</text>
<text x="442.05" y="377.52" font-size="8.5" text-anchor="middle" font-weight="bold" fill="#231f20" stroke="#231f20" stroke-width="0.2" >&gt;100</text>
<text x="493.10" y="377.52" font-size="8.5" text-anchor="middle" font-weight="bold" fill="#231f20" stroke="#231f20" stroke-width="0.2" >&gt;100</text>
<rect x="521.40" y="368.62" width="44.40" height="11.19" fill="#d4604e"/>
<text x="543.60" y="377.52" font-size="8.5" text-anchor="middle" font-weight="bold" fill="#231f20" stroke="#231f20" stroke-width="0.2" >2.61</text>
<rect x="565.80" y="368.62" width="57.90" height="11.19" fill="#6e30aa"/>
<text x="594.75" y="377.52" font-size="8.5" text-anchor="middle" font-weight="bold" fill="#fff" stroke="#fff" stroke-width="0.2" >0.01</text>
<rect x="623.70" y="368.62" width="60.60" height="11.19" fill="#fff000"/>
<text x="654.00" y="377.52" font-size="8.5" text-anchor="middle" font-weight="bold" fill="#231f20" stroke="#231f20" stroke-width="0.2" >81.10</text>
<line x1="373.40" y1="374.22" x2="382.90" y2="374.22" stroke="#206a30" stroke-width="1.1" />
<text x="417.50" y="377.22" font-size="8.2" text-anchor="end" font-weight="bold" fill="#231f20" stroke="#231f20" stroke-width="0.2" >10M2146</text>
<text x="442.05" y="388.71" font-size="8.5" text-anchor="middle" font-weight="bold" fill="#231f20" stroke="#231f20" stroke-width="0.2" >&gt;100</text>
<text x="493.10" y="388.71" font-size="8.5" text-anchor="middle" font-weight="bold" fill="#231f20" stroke="#231f20" stroke-width="0.2" >&gt;100</text>
<rect x="521.40" y="379.81" width="44.40" height="11.19" fill="#fff000"/>
<text x="543.60" y="388.71" font-size="8.5" text-anchor="middle" font-weight="bold" fill="#231f20" stroke="#231f20" stroke-width="0.2" >72.58</text>
<rect x="565.80" y="379.81" width="57.90" height="11.19" fill="#6e30aa"/>
<text x="594.75" y="388.71" font-size="8.5" text-anchor="middle" font-weight="bold" fill="#fff" stroke="#fff" stroke-width="0.2" >0.01</text>
<rect x="623.70" y="379.81" width="60.60" height="11.19" fill="#9a4490"/>
<text x="654.00" y="388.71" font-size="8.5" text-anchor="middle" font-weight="bold" fill="#fff" stroke="#fff" stroke-width="0.2" >0.98</text>
<line x1="373.40" y1="385.41" x2="382.90" y2="385.41" stroke="#40dd40" stroke-width="1.1" />
<text x="417.50" y="388.41" font-size="8.2" text-anchor="end" font-weight="bold" fill="#231f20" stroke="#231f20" stroke-width="0.2" >10M2154</text>
<line x1="371.40" y1="301.50" x2="684.30" y2="301.50" stroke="#454545" stroke-width="1.3" />
<line x1="371.40" y1="312.69" x2="684.30" y2="312.69" stroke="#454545" stroke-width="1.3" />
<line x1="371.40" y1="323.88" x2="684.30" y2="323.88" stroke="#454545" stroke-width="1.3" />
<line x1="371.40" y1="335.06" x2="684.30" y2="335.06" stroke="#454545" stroke-width="1.3" />
<line x1="371.40" y1="346.25" x2="684.30" y2="346.25" stroke="#454545" stroke-width="1.3" />
<line x1="371.40" y1="357.44" x2="684.30" y2="357.44" stroke="#454545" stroke-width="1.3" />
<line x1="371.40" y1="368.62" x2="684.30" y2="368.62" stroke="#454545" stroke-width="1.3" />
<line x1="371.40" y1="379.81" x2="684.30" y2="379.81" stroke="#454545" stroke-width="1.3" />
<line x1="371.40" y1="391.00" x2="684.30" y2="391.00" stroke="#454545" stroke-width="1.3" />
<line x1="419.30" y1="278.00" x2="684.30" y2="278.00" stroke="#454545" stroke-width="1.3" />
<line x1="371.40" y1="301.50" x2="371.40" y2="391.00" stroke="#454545" stroke-width="1.3" />
<line x1="419.30" y1="278.00" x2="419.30" y2="391.00" stroke="#454545" stroke-width="1.3" />
<line x1="464.80" y1="278.00" x2="464.80" y2="391.00" stroke="#454545" stroke-width="1.3" />
<line x1="521.40" y1="278.00" x2="521.40" y2="391.00" stroke="#454545" stroke-width="1.3" />
<line x1="565.80" y1="278.00" x2="565.80" y2="391.00" stroke="#454545" stroke-width="1.3" />
<line x1="623.70" y1="278.00" x2="623.70" y2="391.00" stroke="#454545" stroke-width="1.3" />
<line x1="684.30" y1="278.00" x2="684.30" y2="391.00" stroke="#454545" stroke-width="1.3" />
<text x="442.05" y="287.00" font-size="8.8" text-anchor="middle" font-weight="bold" fill="#231f20" stroke="#231f20" stroke-width="0.2" >VACV</text>
<text x="442.05" y="298.60" font-size="8.8" text-anchor="middle" font-weight="bold" fill="#231f20" stroke="#231f20" stroke-width="0.2" >WR</text>
<text x="493.10" y="287.00" font-size="8.8" text-anchor="middle" font-weight="bold" fill="#231f20" stroke="#231f20" stroke-width="0.2" >VACV</text>
<text x="493.10" y="298.60" font-size="8.8" text-anchor="middle" font-weight="bold" fill="#231f20" stroke="#231f20" stroke-width="0.2" >Copenhagen</text>
<text x="543.60" y="287.00" font-size="8.8" text-anchor="middle" font-weight="bold" fill="#231f20" stroke="#231f20" stroke-width="0.2" >VACV</text>
<text x="543.60" y="298.60" font-size="8.8" text-anchor="middle" font-weight="bold" fill="#231f20" stroke="#231f20" stroke-width="0.2" >IHDJ</text>
<text x="594.75" y="287.00" font-size="8.8" text-anchor="middle" font-weight="bold" fill="#231f20" stroke="#231f20" stroke-width="0.2" >MPXV</text>
<text x="594.75" y="298.60" font-size="8.8" text-anchor="middle" font-weight="bold" fill="#231f20" stroke="#231f20" stroke-width="0.2" >sub-clade 1b</text>
<text x="654.00" y="287.00" font-size="8.8" text-anchor="middle" font-weight="bold" fill="#231f20" stroke="#231f20" stroke-width="0.2" >MPXV</text>
<text x="654.00" y="298.60" font-size="8.8" text-anchor="middle" font-weight="bold" fill="#231f20" stroke="#231f20" stroke-width="0.2" >sub-clade 2b</text>
</svg></body></html>
